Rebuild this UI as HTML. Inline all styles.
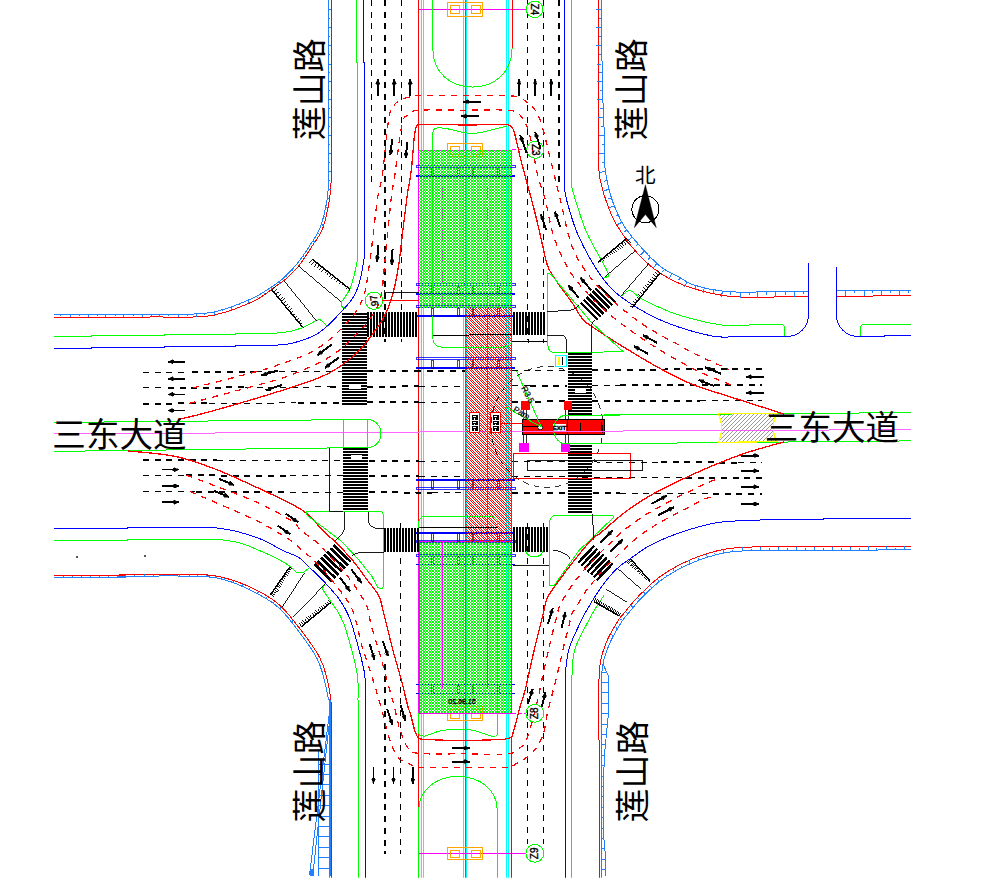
<!DOCTYPE html>
<html><head><meta charset="utf-8"><title>intersection</title>
<style>html,body{margin:0;padding:0;background:#fff;font-family:"Liberation Sans",sans-serif}svg{display:block}</style></head>
<body><svg width="1006" height="881" viewBox="0 0 1006 881">
<defs><clipPath id="cl"><rect x="54" y="0" width="857.5" height="877.7"/></clipPath>
<pattern id="gh" patternUnits="userSpaceOnUse" x="0" y="0" width="3" height="3"><path fill="#00ff00" d="M0 0h2v2h-2zM2 2h1v1h-1z"/></pattern>
<pattern id="rh" patternUnits="userSpaceOnUse" x="0" y="0" width="5" height="5"><path fill="#ff0000" d="M0 0h1v1h-1zM2 0h1v1h-1zM1 1h1v1h-1zM3 1h1v1h-1zM2 2h1v1h-1zM4 2h1v1h-1zM3 3h1v1h-1zM0 3h1v1h-1zM4 4h1v1h-1zM1 4h1v1h-1z"/></pattern>
<pattern id="yh" patternUnits="userSpaceOnUse" width="4" height="4"><path d="M-1 5 L5 -1 M-1 1 L1 -1 M3 5 L5 3" stroke="#808080" stroke-width="0.8"/></pattern>
</defs>
<rect width="1006" height="881" fill="#fff"/>
<g clip-path="url(#cl)">
<g shape-rendering="crispEdges" fill="none" stroke-linecap="butt">
<path d="M418.6 0 L418.6 881" stroke="#ff0000" stroke-width="1.4" fill="none"/>
<path d="M421.4 0 L421.4 881" stroke="#00ffff" stroke-width="1" fill="none"/>
<path d="M423.8 0 L423.8 881" stroke="#00ffff" stroke-width="1" fill="none"/>
<path d="M463.7 0 L463.7 881" stroke="#00ffff" stroke-width="1" fill="none"/>
<path d="M466 0 L466 881" stroke="#00ffff" stroke-width="1" fill="none"/>
<path d="M506.6 0 L506.6 881" stroke="#00ffff" stroke-width="1" fill="none"/>
<path d="M508.7 0 L508.7 881" stroke="#00ffff" stroke-width="1" fill="none"/>
<path d="M465.3 0 L465.3 881" stroke="#ff00ff" stroke-width="1" fill="none"/>
<path d="M432.4 150 L432.4 307" stroke="#00ff00" stroke-width="1" fill="none"/>
<path d="M497.5 541 L497.5 713" stroke="#00ff00" stroke-width="1" fill="none"/>
<rect x="418.8" y="150.2" width="93.1" height="157.5" stroke="#ff00ff" stroke-width="1" fill="none"/>
<rect x="418.8" y="541.5" width="93.1" height="171.8" stroke="#ff00ff" stroke-width="1" fill="none"/>
<path d="M511.9 307 L511.9 541" stroke="#ff00ff" stroke-width="1" fill="none"/>
<path d="M487.7 307.7 L487.7 541.5" stroke="#ff00ff" stroke-width="1" fill="none"/>
<path d="M442.6 176 L442.6 307" stroke="#ff00ff" stroke-width="1" fill="none" stroke-dasharray="2 1.5"/>
<path d="M487.6 176 L487.6 307" stroke="#ff00ff" stroke-width="1" fill="none" stroke-dasharray="2 1.5"/>
<path d="M54 433.8 L911 429.6" stroke="#ff66ff" stroke-width="1" fill="none"/>
<path d="M419 9.3 L526 9.3" stroke="#ff00ff" stroke-width="1" fill="none"/>
<path d="M512 149.8 L527 149.8" stroke="#ff00ff" stroke-width="1" fill="none" stroke-dasharray="4 2"/>
<path d="M419 853.3 L526 853.3" stroke="#ff00ff" stroke-width="1" fill="none"/>
<path d="M512 713.3 L526 713.3" stroke="#ff00ff" stroke-width="1" fill="none" stroke-dasharray="4 2"/>
<rect x="416" y="165.6" width="99" height="2" stroke="#0000ff" stroke-width="0.8" fill="none"/>
<path d="M416 175.9 L515 175.9" stroke="#0000ff" stroke-width="1.6" fill="none"/>
<rect x="416" y="283.7" width="99" height="2" stroke="#0000ff" stroke-width="0.8" fill="none"/>
<path d="M416 294 L515 294" stroke="#0000ff" stroke-width="1.6" fill="none"/>
<rect x="416" y="305.5" width="99" height="2" stroke="#0000ff" stroke-width="0.8" fill="none"/>
<path d="M416 315.7 L515 315.7" stroke="#0000ff" stroke-width="1.6" fill="none"/>
<rect x="416" y="357.3" width="99" height="2" stroke="#0000ff" stroke-width="0.8" fill="none"/>
<path d="M416 367.8 L515 367.8" stroke="#0000ff" stroke-width="1.6" fill="none"/>
<path d="M416 480.2 L515 480.2" stroke="#0000ff" stroke-width="1.6" fill="none"/>
<rect x="416" y="487.7" width="99" height="2" stroke="#0000ff" stroke-width="0.8" fill="none"/>
<path d="M416 532.8 L515 532.8" stroke="#0000ff" stroke-width="1.6" fill="none"/>
<rect x="416" y="540" width="99" height="2" stroke="#0000ff" stroke-width="0.8" fill="none"/>
<rect x="416" y="554.3" width="99" height="2" stroke="#0000ff" stroke-width="0.8" fill="none"/>
<path d="M416 564.6 L515 564.6" stroke="#0000ff" stroke-width="1.6" fill="none"/>
<path d="M416 684.6 L515 684.6" stroke="#0000ff" stroke-width="1.6" fill="none"/>
<path d="M416 693.4 L515 693.4" stroke="#0000ff" stroke-width="1.6" fill="none"/>
<rect x="431.9" y="168" width="1.4" height="8" stroke="#000000" stroke-width="0.7" fill="none"/>
<rect x="457.7" y="168" width="1.4" height="8" stroke="#000000" stroke-width="0.7" fill="none"/>
<rect x="472.5" y="168" width="1.4" height="8" stroke="#000000" stroke-width="0.7" fill="none"/>
<rect x="497.9" y="168" width="1.4" height="8" stroke="#000000" stroke-width="0.7" fill="none"/>
<rect x="431.9" y="286" width="1.4" height="8" stroke="#000000" stroke-width="0.7" fill="none"/>
<rect x="457.7" y="286" width="1.4" height="8" stroke="#000000" stroke-width="0.7" fill="none"/>
<rect x="472.5" y="286" width="1.4" height="8" stroke="#000000" stroke-width="0.7" fill="none"/>
<rect x="497.9" y="286" width="1.4" height="8" stroke="#000000" stroke-width="0.7" fill="none"/>
<rect x="431.9" y="308" width="1.4" height="8" stroke="#000000" stroke-width="0.7" fill="none"/>
<rect x="457.7" y="308" width="1.4" height="8" stroke="#000000" stroke-width="0.7" fill="none"/>
<rect x="472.5" y="308" width="1.4" height="8" stroke="#000000" stroke-width="0.7" fill="none"/>
<rect x="497.9" y="308" width="1.4" height="8" stroke="#000000" stroke-width="0.7" fill="none"/>
<rect x="431.9" y="360" width="1.4" height="8" stroke="#000000" stroke-width="0.7" fill="none"/>
<rect x="457.7" y="360" width="1.4" height="8" stroke="#000000" stroke-width="0.7" fill="none"/>
<rect x="472.5" y="360" width="1.4" height="8" stroke="#000000" stroke-width="0.7" fill="none"/>
<rect x="497.9" y="360" width="1.4" height="8" stroke="#000000" stroke-width="0.7" fill="none"/>
<rect x="431.9" y="480" width="1.4" height="8" stroke="#000000" stroke-width="0.7" fill="none"/>
<rect x="457.7" y="480" width="1.4" height="8" stroke="#000000" stroke-width="0.7" fill="none"/>
<rect x="472.5" y="480" width="1.4" height="8" stroke="#000000" stroke-width="0.7" fill="none"/>
<rect x="497.9" y="480" width="1.4" height="8" stroke="#000000" stroke-width="0.7" fill="none"/>
<rect x="431.9" y="533" width="1.4" height="8" stroke="#000000" stroke-width="0.7" fill="none"/>
<rect x="457.7" y="533" width="1.4" height="8" stroke="#000000" stroke-width="0.7" fill="none"/>
<rect x="472.5" y="533" width="1.4" height="8" stroke="#000000" stroke-width="0.7" fill="none"/>
<rect x="497.9" y="533" width="1.4" height="8" stroke="#000000" stroke-width="0.7" fill="none"/>
<rect x="431.9" y="556" width="1.4" height="8" stroke="#000000" stroke-width="0.7" fill="none"/>
<rect x="457.7" y="556" width="1.4" height="8" stroke="#000000" stroke-width="0.7" fill="none"/>
<rect x="472.5" y="556" width="1.4" height="8" stroke="#000000" stroke-width="0.7" fill="none"/>
<rect x="497.9" y="556" width="1.4" height="8" stroke="#000000" stroke-width="0.7" fill="none"/>
<rect x="431.9" y="685" width="1.4" height="8" stroke="#000000" stroke-width="0.7" fill="none"/>
<rect x="457.7" y="685" width="1.4" height="8" stroke="#000000" stroke-width="0.7" fill="none"/>
<rect x="472.5" y="685" width="1.4" height="8" stroke="#000000" stroke-width="0.7" fill="none"/>
<rect x="497.9" y="685" width="1.4" height="8" stroke="#000000" stroke-width="0.7" fill="none"/>
<path d="M143 372.3 L187 372.1" stroke="#000000" stroke-width="1" fill="none" stroke-dasharray="6 5.7"/>
<path d="M192 372 L256 371.7" stroke="#000000" stroke-width="2" fill="none" stroke-dasharray="6 5.7"/>
<path d="M256 371.7 L342 371.2" stroke="#000000" stroke-width="1" fill="none" stroke-dasharray="6 5.7"/>
<path d="M367 371.1 L419 370.8" stroke="#000000" stroke-width="2" fill="none" stroke-dasharray="6 5.7"/>
<path d="M415 370.9 L465 370.6" stroke="#000000" stroke-width="2" fill="none" stroke-dasharray="6 5.7"/>
<path d="M512 370.3 L567 370" stroke="#000000" stroke-width="1" fill="none" stroke-dasharray="6 5.7"/>
<path d="M592 369.9 L762 369" stroke="#000000" stroke-width="2" fill="none" stroke-dasharray="6 5.7"/>
<path d="M143 387.9 L166 387.8" stroke="#000000" stroke-width="1" fill="none" stroke-dasharray="6 5.7"/>
<path d="M168 387.8 L245 387.4" stroke="#000000" stroke-width="2" fill="none" stroke-dasharray="6 5.7"/>
<path d="M245 387.4 L330 386.9" stroke="#000000" stroke-width="1" fill="none" stroke-dasharray="6 5.7"/>
<path d="M330 386.9 L342 386.8" stroke="#000000" stroke-width="2" fill="none" stroke-dasharray="6 5.7"/>
<path d="M367 386.7 L419 386.4" stroke="#000000" stroke-width="2" fill="none" stroke-dasharray="6 5.7"/>
<path d="M419 386.4 L466 386.2" stroke="#000000" stroke-width="1" fill="none" stroke-dasharray="6 5.7"/>
<path d="M512 385.9 L530 385.8" stroke="#000000" stroke-width="1" fill="none" stroke-dasharray="6 5.7"/>
<path d="M530 385.8 L567 385.6" stroke="#000000" stroke-width="2" fill="none" stroke-dasharray="6 5.7"/>
<path d="M592 385.5 L620 385.4" stroke="#000000" stroke-width="1" fill="none" stroke-dasharray="6 5.7"/>
<path d="M620 385.4 L762 384.6" stroke="#000000" stroke-width="2" fill="none" stroke-dasharray="6 5.7"/>
<path d="M143 403.7 L209 403.3" stroke="#000000" stroke-width="2" fill="none" stroke-dasharray="6 5.7"/>
<path d="M209 403.3 L296 402.9" stroke="#000000" stroke-width="1" fill="none" stroke-dasharray="6 5.7"/>
<path d="M298 402.9 L342 402.6" stroke="#000000" stroke-width="2" fill="none" stroke-dasharray="6 5.7"/>
<path d="M367 402.5 L419 402.2" stroke="#000000" stroke-width="2" fill="none" stroke-dasharray="6 5.7"/>
<path d="M419 402.2 L466 402" stroke="#000000" stroke-width="1" fill="none" stroke-dasharray="6 5.7"/>
<path d="M512 401.7 L567 401.4" stroke="#000000" stroke-width="2" fill="none" stroke-dasharray="6 5.7"/>
<path d="M592 401.3 L700 400.7" stroke="#000000" stroke-width="2" fill="none" stroke-dasharray="6 5.7"/>
<path d="M700 400.7 L762 400.4" stroke="#000000" stroke-width="1" fill="none" stroke-dasharray="6 5.7"/>
<path d="M143 460.1 L217 460.4" stroke="#000000" stroke-width="2" fill="none" stroke-dasharray="6 5.7"/>
<path d="M217 460.4 L343 460.9" stroke="#000000" stroke-width="1" fill="none" stroke-dasharray="6 5.7"/>
<path d="M369 461 L419 461.3" stroke="#000000" stroke-width="2" fill="none" stroke-dasharray="6 5.7"/>
<path d="M419 461.3 L466 461.5" stroke="#000000" stroke-width="1" fill="none" stroke-dasharray="6 5.7"/>
<path d="M512 461.6 L660 462.3" stroke="#000000" stroke-width="1" fill="none" stroke-dasharray="6 5.7"/>
<path d="M661 462.3 L738 462.6" stroke="#000000" stroke-width="2" fill="none" stroke-dasharray="6 5.7"/>
<path d="M738 462.6 L762 462.7" stroke="#000000" stroke-width="1" fill="none" stroke-dasharray="6 5.7"/>
<path d="M143 475.2 L185 475.4" stroke="#000000" stroke-width="1" fill="none" stroke-dasharray="6 5.7"/>
<path d="M186 475.4 L290 475.8" stroke="#000000" stroke-width="2" fill="none" stroke-dasharray="6 5.7"/>
<path d="M290 475.8 L343 476" stroke="#000000" stroke-width="1" fill="none" stroke-dasharray="6 5.7"/>
<path d="M369 476.1 L419 476.4" stroke="#000000" stroke-width="2" fill="none" stroke-dasharray="6 5.7"/>
<path d="M419 476.4 L466 476.6" stroke="#000000" stroke-width="1" fill="none" stroke-dasharray="6 5.7"/>
<path d="M512 476.7 L685 477.5" stroke="#000000" stroke-width="1" fill="none" stroke-dasharray="6 5.7"/>
<path d="M686 477.5 L762 477.8" stroke="#000000" stroke-width="2" fill="none" stroke-dasharray="6 5.7"/>
<path d="M143 491.4 L195 491.6" stroke="#000000" stroke-width="1" fill="none" stroke-dasharray="6 5.7"/>
<path d="M196 491.6 L290 492" stroke="#000000" stroke-width="2" fill="none" stroke-dasharray="6 5.7"/>
<path d="M290 492 L343 492.2" stroke="#000000" stroke-width="1" fill="none" stroke-dasharray="6 5.7"/>
<path d="M369 492.3 L419 492.6" stroke="#000000" stroke-width="2" fill="none" stroke-dasharray="6 5.7"/>
<path d="M415 492.5 L432 492.6" stroke="#000000" stroke-width="2" fill="none" stroke-dasharray="6 5.7"/>
<path d="M432 492.6 L466 492.8" stroke="#000000" stroke-width="1" fill="none" stroke-dasharray="6 5.7"/>
<path d="M512 492.9 L568 493.2" stroke="#000000" stroke-width="2" fill="none" stroke-dasharray="6 5.7"/>
<path d="M593 493.3 L620 493.4" stroke="#000000" stroke-width="2" fill="none" stroke-dasharray="6 5.7"/>
<path d="M620 493.4 L712 493.8" stroke="#000000" stroke-width="1" fill="none" stroke-dasharray="6 5.7"/>
<path d="M713 493.8 L762 494" stroke="#000000" stroke-width="2" fill="none" stroke-dasharray="6 5.7"/>
<path d="M371.7 0 L371.7 185" stroke="#000000" stroke-width="1" fill="none" stroke-dasharray="6 5.7"/>
<path d="M385.3 0 L385.3 341.5" stroke="#000000" stroke-width="2" fill="none" stroke-dasharray="6 5.7"/>
<path d="M401 0 L401 341.5" stroke="#000000" stroke-width="1" fill="none" stroke-dasharray="6 5.7"/>
<path d="M527.7 0 L527.7 340" stroke="#000000" stroke-width="1" fill="none" stroke-dasharray="6 5.7"/>
<path d="M543.5 0 L543.5 340" stroke="#000000" stroke-width="1" fill="none" stroke-dasharray="6 5.7"/>
<path d="M559.2 0 L559.2 185" stroke="#000000" stroke-width="2" fill="none" stroke-dasharray="6 5.7"/>
<path d="M385 664 L385 854" stroke="#000000" stroke-width="2" fill="none" stroke-dasharray="6 5.7"/>
<path d="M400.6 522.7 L400.6 854" stroke="#000000" stroke-width="1" fill="none" stroke-dasharray="6 5.7"/>
<path d="M527.6 522.7 L527.6 843.6" stroke="#000000" stroke-width="1" fill="none" stroke-dasharray="6 5.7"/>
<path d="M543.6 522.7 L543.6 843.6" stroke="#000000" stroke-width="1" fill="none" stroke-dasharray="6 5.7"/>
<rect x="447.4" y="2.5" width="35.1" height="13.8" stroke="#ffa500" stroke-width="1" fill="none"/>
<rect x="450.6" y="5.5" width="8.8" height="8.3" stroke="#ffa500" stroke-width="1" fill="none"/>
<rect x="471.2" y="5.5" width="8.8" height="8.3" stroke="#ffa500" stroke-width="1" fill="none"/>
<rect x="447.4" y="143.3" width="35.1" height="13.3" stroke="#ffa500" stroke-width="1" fill="none"/>
<rect x="450.6" y="146.2" width="8.8" height="8" stroke="#ffa500" stroke-width="1" fill="none"/>
<rect x="471.2" y="146.2" width="8.8" height="8" stroke="#ffa500" stroke-width="1" fill="none"/>
<rect x="447.4" y="706.8" width="35.1" height="13.9" stroke="#ffa500" stroke-width="1" fill="none"/>
<rect x="450.6" y="709.9" width="8.8" height="8.3" stroke="#ffa500" stroke-width="1" fill="none"/>
<rect x="471.2" y="709.9" width="8.8" height="8.3" stroke="#ffa500" stroke-width="1" fill="none"/>
<rect x="447.4" y="847.4" width="35.1" height="12.5" stroke="#ffa500" stroke-width="1" fill="none"/>
<rect x="450.6" y="850.1" width="8.8" height="7.5" stroke="#ffa500" stroke-width="1" fill="none"/>
<rect x="471.2" y="850.1" width="8.8" height="7.5" stroke="#ffa500" stroke-width="1" fill="none"/>
<path d="M342 313 h25 v2 h-25 zM342 316 h25 v2 h-25 zM342 319 h25 v2 h-25 zM342 322 h25 v2 h-25 zM342 325 h25 v2 h-25 zM342 328 h25 v2 h-25 zM342 331 h25 v2 h-25 zM342 334 h25 v2 h-25 zM342 337 h25 v2 h-25 zM342 340 h25 v2 h-25 zM342 343 h25 v2 h-25 zM342 346 h25 v2 h-25 zM342 349 h25 v2 h-25 zM342 352 h25 v2 h-25 zM342 355 h25 v2 h-25 zM342 358 h25 v2 h-25 zM342 361 h25 v2 h-25 zM342 364 h25 v2 h-25 zM342 367 h25 v2 h-25 zM342 370 h25 v2 h-25 zM342 373 h25 v2 h-25 zM342 376 h25 v2 h-25 zM342 379 h25 v2 h-25 zM342 382 h25 v2 h-25 zM342 385 h25 v2 h-25 zM342 388 h25 v2 h-25 zM342 391 h25 v2 h-25 zM342 394 h25 v2 h-25 zM342 397 h25 v2 h-25 zM342 400 h25 v2 h-25 zM342 403 h25 v2 h-25 z" stroke="none" stroke-width="0" fill="#000000"/>
<path d="M343 448 h25 v2 h-25 zM343 451 h25 v2 h-25 zM343 454 h25 v2 h-25 zM343 457 h25 v2 h-25 zM343 460 h25 v2 h-25 zM343 463 h25 v2 h-25 zM343 466 h25 v2 h-25 zM343 469 h25 v2 h-25 zM343 472 h25 v2 h-25 zM343 475 h25 v2 h-25 zM343 478 h25 v2 h-25 zM343 481 h25 v2 h-25 zM343 484 h25 v2 h-25 zM343 487 h25 v2 h-25 zM343 490 h25 v2 h-25 zM343 493 h25 v2 h-25 zM343 496 h25 v2 h-25 zM343 499 h25 v2 h-25 zM343 502 h25 v2 h-25 zM343 505 h25 v2 h-25 zM343 508 h25 v2 h-25 z" stroke="none" stroke-width="0" fill="#000000"/>
<path d="M367 312 v25 h2 v-25 zM370 312 v25 h2 v-25 zM373 312 v25 h2 v-25 zM376 312 v25 h2 v-25 zM379 312 v25 h2 v-25 zM382 312 v25 h2 v-25 zM385 312 v25 h2 v-25 zM388 312 v25 h2 v-25 zM391 312 v25 h2 v-25 zM394 312 v25 h2 v-25 zM397 312 v25 h2 v-25 zM400 312 v25 h2 v-25 zM403 312 v25 h2 v-25 zM406 312 v25 h2 v-25 zM409 312 v25 h2 v-25 zM412 312 v25 h2 v-25 zM415 312 v25 h2 v-25 z" stroke="none" stroke-width="0" fill="#000000"/>
<path d="M513 312 v23 h2 v-23 zM516 312 v23 h2 v-23 zM519 312 v23 h2 v-23 zM522 312 v23 h2 v-23 zM525 312 v23 h2 v-23 zM528 312 v23 h2 v-23 zM531 312 v23 h2 v-23 zM534 312 v23 h2 v-23 zM537 312 v23 h2 v-23 zM540 312 v23 h2 v-23 zM543 312 v23 h2 v-23 z" stroke="none" stroke-width="0" fill="#000000"/>
<path d="M384 528 v24 h2 v-24 zM387 528 v24 h2 v-24 zM390 528 v24 h2 v-24 zM393 528 v24 h2 v-24 zM396 528 v24 h2 v-24 zM399 528 v24 h2 v-24 zM402 528 v24 h2 v-24 zM405 528 v24 h2 v-24 zM408 528 v24 h2 v-24 zM411 528 v24 h2 v-24 zM414 528 v24 h2 v-24 zM417 528 v24 h2 v-24 z" stroke="none" stroke-width="0" fill="#000000"/>
<path d="M513 527 v25 h2 v-25 zM516 527 v25 h2 v-25 zM519 527 v25 h2 v-25 zM522 527 v25 h2 v-25 zM525 527 v25 h2 v-25 zM528 527 v25 h2 v-25 zM531 527 v25 h2 v-25 zM534 527 v25 h2 v-25 zM537 527 v25 h2 v-25 zM540 527 v25 h2 v-25 zM543 527 v25 h2 v-25 zM546 527 v25 h2 v-25 z" stroke="none" stroke-width="0" fill="#000000"/>
<path d="M568 353 h24 v2 h-24 zM568 356 h24 v2 h-24 zM568 359 h24 v2 h-24 zM568 362 h24 v2 h-24 zM568 365 h24 v2 h-24 zM568 368 h24 v2 h-24 zM568 371 h24 v2 h-24 zM568 374 h24 v2 h-24 zM568 377 h24 v2 h-24 zM568 380 h24 v2 h-24 zM568 383 h24 v2 h-24 zM568 386 h24 v2 h-24 zM568 389 h24 v2 h-24 zM568 392 h24 v2 h-24 zM568 395 h24 v2 h-24 zM568 398 h24 v2 h-24 zM568 401 h24 v2 h-24 zM568 404 h24 v2 h-24 zM568 407 h24 v2 h-24 zM568 410 h24 v2 h-24 zM568 413 h24 v2 h-24 z" stroke="none" stroke-width="0" fill="#000000"/>
<path d="M568 445 h24 v2 h-24 zM568 448 h24 v2 h-24 zM568 451 h24 v2 h-24 zM568 454 h24 v2 h-24 zM568 457 h24 v2 h-24 zM568 460 h24 v2 h-24 zM568 463 h24 v2 h-24 zM568 466 h24 v2 h-24 zM568 469 h24 v2 h-24 zM568 472 h24 v2 h-24 zM568 475 h24 v2 h-24 zM568 478 h24 v2 h-24 zM568 481 h24 v2 h-24 zM568 484 h24 v2 h-24 zM568 487 h24 v2 h-24 zM568 490 h24 v2 h-24 zM568 493 h24 v2 h-24 zM568 496 h24 v2 h-24 zM568 499 h24 v2 h-24 zM568 502 h24 v2 h-24 zM568 505 h24 v2 h-24 zM568 508 h24 v2 h-24 zM568 511 h24 v2 h-24 z" stroke="none" stroke-width="0" fill="#000000"/>
<rect x="349" y="384.4" width="12" height="4.2" stroke="none" stroke-width="1" fill="#fff"/>
<rect x="351" y="455" width="11" height="4" stroke="none" stroke-width="1" fill="#fff"/>
<rect x="575" y="389" width="11" height="4" stroke="none" stroke-width="1" fill="#fff"/>
<g transform="translate(598 302.5) rotate(45)">
<path d="M-12 -13.6 h24 v2.6 h-24 zM-12 -9.5 h24 v2.6 h-24 zM-12 -5.4 h24 v2.6 h-24 zM-12 -1.3 h24 v2.6 h-24 zM-12 2.8 h24 v2.6 h-24 zM-12 6.9 h24 v2.6 h-24 zM-12 11 h24 v2.6 h-24 z" stroke="none" stroke-width="0" fill="#000000"/>
</g>
<g transform="translate(332.8 563.1) rotate(44)">
<path d="M-12.2 -14.8 h24.5 v2.7 h-24.5 zM-12.2 -10.3 h24.5 v2.7 h-24.5 zM-12.2 -5.8 h24.5 v2.7 h-24.5 zM-12.2 -1.4 h24.5 v2.7 h-24.5 zM-12.2 3.1 h24.5 v2.7 h-24.5 zM-12.2 7.7 h24.5 v2.7 h-24.5 zM-12.2 12.2 h24.5 v2.7 h-24.5 z" stroke="none" stroke-width="0" fill="#000000"/>
</g>
<g transform="translate(595.6 563) rotate(-47)">
<path d="M-11.8 -14.1 h23.5 v2.6 h-23.5 zM-11.8 -9.8 h23.5 v2.6 h-23.5 zM-11.8 -5.5 h23.5 v2.6 h-23.5 zM-11.8 -1.3 h23.5 v2.6 h-23.5 zM-11.8 3 h23.5 v2.6 h-23.5 zM-11.8 7.2 h23.5 v2.6 h-23.5 zM-11.8 11.4 h23.5 v2.6 h-23.5 z" stroke="none" stroke-width="0" fill="#000000"/>
</g>
</g>
<g shape-rendering="crispEdges"><rect x="418.5" y="150.2" width="93.4" height="157.5" fill="url(#gh)"/>
<rect x="418.5" y="541.5" width="93.4" height="171.8" fill="url(#gh)"/>
<rect x="465.8" y="307.7" width="45.9" height="233.8" fill="url(#rh)"/></g>
<g shape-rendering="crispEdges" fill="none" stroke-linecap="butt">
<path d="M442.6 541.5 L442.6 689" stroke="#ff00ff" stroke-width="1" fill="none"/>
<path d="M487.6 541.5 L487.6 689" stroke="#ff00ff" stroke-width="1" fill="none"/>
<path d="M419.2 541.5 V713.3 H511.7 V541.5" stroke="#ff00ff" stroke-width="1.4" fill="none"/>
<path d="M465.2 541.5 L465.2 713" stroke="#ff00ff" stroke-width="1" fill="none"/>
<path d="M328.7 0 C328.7 16.7 328.7 70.8 328.7 100 C328.7 129.2 329 158.3 328.7 175 C328.4 191.7 328.4 191.2 327 200 C325.6 208.8 322.8 220.5 320 228 C317.2 235.5 313.8 239.2 310.1 245 C306.5 250.8 302.3 257.2 298.1 262.5 C293.9 267.8 288.6 273.1 285 276.7 C281.4 280.2 280 281.1 276.2 283.8 C272.4 286.5 266 290.7 262 293.1 C258 295.6 257.7 296 252 298.5 C246.3 301 236.2 305.5 228 308 C219.8 310.5 216 312.6 203 313.6 C190 314.6 174.8 314.1 150 314.2 C125.2 314.3 70 314.4 54 314.5" stroke="#2080ff" stroke-width="1" fill="none"/>
<path d="M331.3 0 C331.3 16.7 331.3 70.8 331.3 100 C331.3 129.2 331.7 158.2 331.3 175 C330.9 191.8 330.7 192 329.2 201 C327.7 210 325.2 221.7 322.5 229 C319.8 236.3 316.6 239.1 312.8 245 C309 250.9 304 259.2 299.7 264.7 C295.4 270.2 291.1 274.2 287.2 277.8 C283.3 281.4 280.4 282.9 276.2 286 C272 289.1 265.9 293.8 262 296.4 C258.1 299 258.5 299.1 253 301.5 C247.5 303.9 237.2 308.5 229 311 C220.8 313.5 216.7 315.6 203.5 316.6 C190.3 317.6 174.9 316.9 150 317 C125.1 317.1 70 317.2 54 317.3" stroke="#ff0000" stroke-width="1" fill="none"/>
<path d="M328.7 9 l2.6 -0M328.7 18.6 l1.4 -0M328.7 27.5 l2.6 -0M328.7 36.2 l1.4 -0M328.7 45.3 l2.6 0M328.7 54.7 l1.4 -0M328.7 64 l2.6 -0M328.7 72.1 l1.4 0M328.7 81.1 l2.6 0M328.7 90.6 l1.4 -0M328.7 99.1 l2.6 -0M328.7 108.2 l1.4 -0M328.7 117.4 l2.6 -0M328.8 126.5 l1.4 -0M328.8 135.3 l2.6 -0M328.8 144.8 l1.4 -0M328.8 153.7 l2.6 -0M328.8 162.7 l1.4 0M328.7 171.5 l2.6 0M328.6 180.3 l1.4 0M328.4 189.3 l2.6 0.1M327.3 198 l1.4 0.2M325.7 207 l2.5 0.5M323.5 216.6 l1.4 0.4M321.2 224.6 l2.5 0.8M317.7 233.2 l1.3 0.7M312.9 240.8 l2.1 1.5M308 248.4 l1.2 0.8M302.8 256.1 l2.1 1.5M297.4 263.3 l1.1 0.9M291.7 269.9 l1.9 1.8M285.6 276.1 l1 1M278.9 281.9 l1.5 2.1M271.1 287.3 l0.8 1.2M263.6 292.1 l1.4 2.2M256.5 296.4 l0.7 1.3M248.1 300.2 l1 2.4M239.4 303.9 l0.5 1.3M231 307 l0.9 2.5M222.7 309.7 l0.4 1.4M214.1 312.1 l0.5 2.5M204.5 313.5 l0.1 1.4M196.2 314 l0.1 2.6M187 314.2 l0 1.4M178.5 314.2 l-0 2.6M168.9 314.2 l-0 1.4M159.4 314.2 l-0 2.6M151.4 314.2 l0 1.4M142.3 314.2 l0 2.6M133.3 314.3 l0 1.4M123.4 314.3 l0 2.6M115.3 314.3 l0 1.4M105.8 314.4 l0 2.6M97.5 314.4 l0 1.4M88.2 314.4 l0 2.6M79.4 314.4 l0 1.4M70.3 314.5 l0 2.6M60.9 314.5 l0 1.4" stroke="#2080ff" stroke-width="1" fill="none"/>
<path d="M601.6 0 C601.7 13.3 601.8 56.7 602.3 80 C602.8 103.3 604.1 125.7 604.5 140 C604.9 154.3 604.2 158.4 604.8 166 C605.4 173.6 606.7 179.3 608 185.3 C609.3 191.3 610.7 196.2 612.8 202 C614.9 207.8 618.3 215.3 620.6 220 C622.9 224.7 624.2 226.3 626.8 230 C629.4 233.7 632.7 237.7 636.3 241.9 C639.9 246.1 643.9 250.6 648.3 255 C652.7 259.4 657.3 264.4 662.6 268.2 C667.9 272 674.7 274.9 680 277.7 C685.3 280.5 687 282.9 694.4 285.2 C701.8 287.5 714.1 290.3 724.4 291.4 C734.7 292.5 742 292 756 292 C770 292 799.7 291.3 808.4 291.2" stroke="#2080ff" stroke-width="1" fill="none"/>
<path d="M598.6 0 C598.6 16.7 598.6 72.7 598.6 100 C598.6 127.3 598.1 149.8 598.6 164 C599.1 178.2 600 178.6 601.5 185.3 C603 192 604.9 197.8 607.4 204.4 C609.9 211 611.8 217 616.7 225 C621.6 233 629.7 244.7 636.8 252.6 C643.9 260.5 650.9 267 659.3 272.6 C667.6 278.2 676 282.5 686.9 286.4 C697.8 290.2 712.9 293.9 724.4 295.7 C735.9 297.5 742 297.1 756 297.2 C770 297.3 799.7 296.4 808.4 296.2" stroke="#ff0000" stroke-width="1" fill="none"/>
<path d="M601.7 9.5 l-5.5 0M601.7 18.7 l-3 0M601.8 27.2 l-5.5 0M601.8 36.2 l-3 0M601.9 45.6 l-5.5 0M602 54.9 l-3 0M602.1 64 l-5.5 0.1M602.2 72.5 l-3 0M602.3 81.2 l-5.5 0.1M602.6 90.4 l-3 0.1M602.9 99.4 l-5.5 0.2M603.2 108.1 l-3 0.1M603.6 117.4 l-5.5 0.2M604 126 l-3 0.1M604.4 135.5 l-5.5 0.2M604.6 144.6 l-3 0.1M604.6 153.7 l-5.5 -0.1M604.6 162.7 l-3 0.1M605.4 171.6 l-5.5 0.7M607 180.6 l-3 0.6M609 189.4 l-5.3 1.3M611.4 198 l-2.9 0.9M614.3 205.8 l-5.1 2M618.2 214.9 l-2.8 1.3M621.8 222.3 l-4.9 2.6M626.8 230 l-2.5 1.8M632.2 237 l-4.3 3.5M638.2 244.1 l-2.3 2M644.5 251.1 l-4 3.8M650.4 257.1 l-2.2 2.1M657 263.6 l-3.7 4M664.3 269.4 l-1.7 2.5M671.8 273.5 l-2.5 4.9M680 277.7 l-1.4 2.7M687.2 282.1 l-2.8 4.7M695.9 285.7 l-0.9 2.9M704.2 287.8 l-1.3 5.4M713.7 289.8 l-0.6 3M722.3 291.2 l-0.7 5.5M731 291.9 l-0.2 3M740.2 292.1 l0 5.5M749.7 292 l0 3M757.7 292 l0 5.5M766.6 291.9 l0 3M775.8 291.8 l0.1 5.5M785.4 291.6 l0.1 3M794.4 291.5 l0.1 5.5M803 291.3 l0.1 3" stroke="#2080ff" stroke-width="1" fill="none"/>
<path d="M836.4 290.4 L911 290.4" stroke="#2080ff" stroke-width="1" fill="none"/>
<path d="M836.4 296.2 L873 296.2 L874 295.5 L911 295.5" stroke="#ff0000" stroke-width="1" fill="none"/>
<path d="M845.8 290.4 l0 5.5M854.6 290.4 l-0 3M864.2 290.4 l-0 5.5M872.9 290.4 l-0 3M881.5 290.4 l-0 5.5M890.9 290.4 l-0 3M899.8 290.4 l-0 5.5M908.6 290.4 l-0 3" stroke="#2080ff" stroke-width="1" fill="none"/>
<path d="M54 575.9 C65.3 575.9 110.5 576.1 122 575.9 C133.5 575.7 110 574.8 123 574.6 C136 574.4 183 574 200 574.6 C217 575.2 216.3 575.8 225 578 C233.7 580.2 243.3 583.8 252 587.9 C260.7 592 270.2 597.5 277 602.9 C283.8 608.2 285.8 610.7 293 620 C300.2 629.3 313.9 645.7 320.1 658.5 C326.4 671.3 328.6 683.4 330.5 697 C332.4 710.6 331.2 709.3 331.4 740 C331.5 770.7 331.4 857.5 331.4 881" stroke="#ff0000" stroke-width="1" fill="none"/>
<path d="M54 577.4 C65.3 577.4 110.5 577.6 122 577.4 C133.5 577.2 110 576.6 123 576.4 C136 576.2 183 575.8 200 576.4 C217 577 216.5 577.7 225 580 C233.5 582.3 242.6 586.2 251 590.4 C259.4 594.6 268.8 599.7 275.5 605 C282.2 610.3 284.5 612.9 291.5 622 C298.5 631.1 311.4 647 317.5 659.5 C323.6 672 326 687.3 328 697 C330 706.7 329.3 687 329.6 717.7 C329.9 748.4 329.6 853.8 329.6 881" stroke="#2080ff" stroke-width="1" fill="none"/>
<path d="M63.7 577.4 l0 -1.8M72.2 577.4 l0 -1.8M81.7 577.5 l0 -1.8M90.4 577.5 l0 -1.8M99 577.5 l0 -1.8M108.1 577.5 l-0 -1.8M117.5 577.4 l-0 -1.8M125.9 576.4 l-0 -1.8M134.9 576.3 l-0 -1.8M144.2 576.2 l-0 -1.8M153.4 576.1 l-0 -1.8M161.8 576.1 l-0 -1.8M171.4 576.1 l-0 -1.8M179.6 576.1 l0 -1.8M189.1 576.2 l0 -1.8M197.9 576.3 l0 -1.8M206.9 576.7 l0.1 -1.8M215.3 577.5 l0.3 -1.8M224 579.7 l0.5 -1.7M233.3 582.7 l0.6 -1.7M241.8 586.1 l0.7 -1.7M249.2 589.5 l0.8 -1.6M257.4 593.7 l0.8 -1.6M265.7 598.4 l0.9 -1.5M273.2 603.3 l1 -1.5M279.8 608.9 l1.3 -1.3M286.1 615.7 l1.4 -1.2M291.5 622 l1.3 -1.2" stroke="#2080ff" stroke-width="1" fill="none"/>
<path d="M330 700 L330 876" stroke="#2080ff" stroke-width="1" fill="none"/>
<path d="M330.5 704 L309.5 875" stroke="#2080ff" stroke-width="1" fill="none"/>
<path d="M330.5 712 L312.8 875" stroke="#2080ff" stroke-width="1" fill="none"/>
<path d="M318.3 749 L318.3 876" stroke="#2080ff" stroke-width="1" fill="none"/>
<path d="M318.3 764 H330M318.3 774.4 H330M318.3 784.8 H330M318.3 795.2 H330M318.3 805.6 H330M318.3 816 H330M318.3 826.4 H330M318.3 836.8 H330M318.3 847.2 H330M318.3 857.6 H330M318.3 868 H330" stroke="#2080ff" stroke-width="1" fill="none"/>
<rect x="310" y="869" width="3.5" height="7" stroke="none" stroke-width="1" fill="#2080ff"/>
<path d="M599 881 C599 857.5 599 774.7 599 740 C599 705.3 598.2 689 599.3 673 C600.4 657 602.6 652.5 605.8 643.7 C609 634.9 615.4 625.1 618.5 620 C621.6 614.9 620.7 617.1 624.2 613 C627.7 608.9 633 601.7 639.3 595.4 C645.6 589.1 653 581.4 661.8 575.4 C670.6 569.4 681.5 563.5 691.9 559.1 C702.3 554.8 713.7 551.3 724.4 549.3 C735.1 547.3 739.6 547.3 756 546.9 C772.4 546.5 797.2 546.8 823 546.6 C848.8 546.5 896.3 546.1 911 546" stroke="#ff0000" stroke-width="1" fill="none"/>
<path d="M601.5 881 C601.5 857.5 601.5 774.7 601.5 740 C601.5 705.3 600.5 688.8 601.8 673 C603 657.2 605.7 653.5 609 645 C612.3 636.5 618.5 627 621.5 622 C624.5 617 623.7 619 627 615 C630.3 611 635.4 604.1 641.5 598 C647.6 591.9 654.9 584.4 663.5 578.5 C672.1 572.6 682.8 566.8 693 562.5 C703.2 558.2 714.5 554.8 725 552.8 C735.5 550.8 739.7 551 756 550.6 C772.3 550.2 797.2 550.4 823 550.3 C848.8 550.2 896.3 549.9 911 549.8" stroke="#2080ff" stroke-width="1" fill="none"/>
<path d="M613.8 636.1 l-3.2 -1.7M617.8 628.7 l-1.7 -0.9M622.5 620.4 l-3.1 -1.9M628 613.8 l-1.5 -1.3M633.2 607.3 l-2.8 -2.3M639.9 599.7 l-1.4 -1.4M645.4 594.1 l-2.5 -2.6M651.9 587.8 l-1.3 -1.5M659.2 581.7 l-2.2 -2.8M666.7 576.4 l-1.1 -1.7M674.5 571.6 l-1.8 -3.1M681.8 567.7 l-0.9 -1.8M690.2 563.7 l-1.5 -3.3M698.7 560.3 l-0.7 -1.9M707.4 557.2 l-1.1 -3.4M715.3 555 l-0.5 -1.9M724 553 l-0.7 -3.5M733 551.6 l-0.2 -2M742.4 550.9 l-0.1 -3.6M751.6 550.7 l-0 -2M760.6 550.5 l-0.1 -3.6M769.1 550.4 l-0 -2M778.4 550.4 l-0 -3.6M787.5 550.3 l-0 -2M796 550.3 l0 -3.6M805.9 550.3 l-0 -2M814.9 550.3 l-0 -3.6M823 550.3 l-0 -2M832.6 550.2 l-0 -3.6M841.1 550.2 l-0 -2M850.2 550.2 l-0 -3.6M859.5 550.1 l-0 -2M868.9 550 l-0 -3.6M876.9 550 l-0 -2M886.7 549.9 l-0 -3.6M895.6 549.9 l-0 -2M904.1 549.8 l-0 -3.6" stroke="#2080ff" stroke-width="1" fill="none"/>
<path d="M603 664 L608.4 676 L608.4 714 L605 749 L603.2 782 L603.2 831 L605.6 858 L605.6 876" stroke="#2080ff" stroke-width="1" fill="none"/>
<path d="M601.5 672 H606.6M601.5 682.4 H608.4M601.5 692.8 H608.4M601.5 703.2 H608.4M601.5 713.6 H608.4M601.5 724 H607.4M601.5 734.4 H606.4M601.5 744.8 H605.4M601.5 755.2 H604.7M601.5 765.6 H604.1M601.5 776 H603.5M601.5 786.4 H603.2M601.5 796.8 H603.2M601.5 807.2 H603.2M601.5 817.6 H603.2M601.5 828 H603.2M601.5 838.4 H603.9M601.5 848.8 H604.8M601.5 859.2 H605.6M601.5 869.6 H605.6" stroke="#2080ff" stroke-width="1" fill="none"/>
<path d="M363 0 L363 62 L364 62 L364 189 L364.6 189 L364.6 245 C364.5 247.7 364.8 254.5 363.7 261.4 C362.6 268.3 360.2 280.2 358.2 286.6 C356.2 293 354.7 295.3 351.7 299.7 C348.7 304.1 344 308.6 340 313 C336 317.4 331.7 322.3 327.6 325.9 C323.5 329.5 320.2 332.2 315.6 334.7 C311 337.2 305.2 339.4 300 341 C294.8 342.6 290.4 343.9 284.6 344.6 C278.8 345.3 268.3 345.1 265 345.2 L235 345.2 L235 346.2 L164 346.2 L164 347.2 L91 347.2 L91 348.3 L54 348.3" stroke="#0000ff" stroke-width="1" fill="none"/>
<path d="M564.5 0 L564.5 185 C564.9 187.5 564.1 191.2 566.6 200 C569.1 208.8 572.9 224.2 579.2 237.6 C585.5 251 595.9 269.3 604.2 280.2 C612.6 291.1 618.9 295.6 629.3 302.7 C639.7 309.8 653 317.1 666.8 322.7 C680.6 328.2 700.5 333.7 711.9 336 C723.3 338.3 731.1 336.5 735 336.6 L787.2 336.4" stroke="#0000ff" stroke-width="1" fill="none"/>
<path d="M787.2 336.4 C799 336.4 808.4 327 808.4 314.9 L808.4 263.2" stroke="#0000ff" stroke-width="1" fill="none"/>
<path d="M836.4 267 L836.4 314.9 C836.4 327 846 336.4 858.4 336.4 L884.5 336.4 L884.5 335.5 L911 335.5" stroke="#0000ff" stroke-width="1" fill="none"/>
<path d="M54 528.3 L127.5 528.3 L127.5 527.5 L213 527.5 C216.7 528.1 226.8 529 235 531 C243.2 533 254.1 536.4 262 539.6 C269.9 542.8 276.3 547.5 282.4 550.4 C288.4 553.3 293.8 554.4 298.3 557.2 C302.9 560.1 305.1 563.1 309.7 567.5 C314.2 571.9 320.7 578 325.6 583.3 C330.5 588.6 335.4 593.9 339.2 599.2 C343 604.5 345.7 609.1 348.3 615.1 C350.9 621.1 352.3 625.3 355 635 C357.7 644.7 362.8 662.5 364.5 673.3 C366.2 684.1 365.2 695.5 365.4 700 L365.4 881" stroke="#0000ff" stroke-width="1" fill="none"/>
<path d="M565 881 L565 679 C565.6 674.1 566 659.4 568.8 649.6 C571.6 639.8 577.8 628 581.6 620 C585.4 612 588.2 607.6 591.8 601.7 C595.4 595.8 598.9 590.2 603.1 584.7 C607.3 579.2 612.2 573.1 616.8 568.8 C621.3 564.4 624.7 562.6 630.4 558.6 C636.1 554.6 642.6 549.3 650.8 545 C659 540.7 668.4 536.5 679.4 532.8 C690.4 529.1 704.2 524.8 717 522.7 C729.8 520.6 743.8 520.8 756 520.2 C768.2 519.6 784.3 519.4 790 519.3 L823 519.3 L823 518.8 L911 518.8" stroke="#0000ff" stroke-width="1" fill="none"/>
<path d="M356 0 L356 62 L357.2 62 L357.2 189 L357.8 189 L357.8 245 C357.7 247.7 358.4 254.1 357.1 261.4 C355.8 268.7 352.6 281.9 350 288.7 C347.4 295.4 342.8 299.7 341.3 301.9 L341.3 306.2 L345.7 309" stroke="#00ff00" stroke-width="1" fill="none"/>
<path d="M327.6 326.5 L320 319.4 L316.1 320.5 C313.7 321.8 306.8 326.1 301.4 328.1 C296 330.1 290.5 331.6 283.9 332.5 C277.3 333.4 265.6 333.2 262 333.4 L235 333.5 L235 334.5 L164 334.5 L164 335.5 L91 335.5 L91 336.5 L54 336.5" stroke="#00ff00" stroke-width="1" fill="none"/>
<path d="M571.4 0 L571.4 185 C572.1 187.5 572.8 192.1 575.4 200 C578 207.9 581.9 221.8 586.7 232.6 C591.5 243.4 600.7 258.4 604.2 265.1 C607.8 271.8 607.4 271.7 608 273 L608.5 276 L604.5 278" stroke="#00ff00" stroke-width="1" fill="none"/>
<path d="M621.7 296.4 C622.4 295.7 624.3 292.8 626 292 C627.7 291.2 628.8 290 631.8 291.4 C634.8 292.8 636.4 296.2 644.3 300.2 C652.2 304.2 666 311 679.4 315.2 C692.8 319.4 711.6 323.8 724.4 325.3 C737.2 326.9 750.7 324.6 756 324.5 L781 324.1" stroke="#00ff00" stroke-width="1" fill="none"/>
<path d="M781 324.1 C783.5 324.3 784.7 326 784.7 328.5 L784.7 336.4" stroke="#00ff00" stroke-width="1" fill="none"/>
<path d="M860.4 336.4 L860.4 328.5 C860.5 325.5 862 324.1 865 324.1 L911 324.1" stroke="#00ff00" stroke-width="1" fill="none"/>
<path d="M54 540.3 L127.5 540.3 L127.5 539.3 L218 539.3 C221.7 539.9 232.7 541 240 543 C247.3 545 255.5 548.9 262 551.6 C268.5 554.4 274.4 557 279 559.5 C283.6 562 286.8 564.1 289.8 566.3 C292.8 568.5 294.8 571.6 297.2 572.6 C299.6 573.6 302.9 572.1 304 572 L309.7 567.5" stroke="#00ff00" stroke-width="1" fill="none"/>
<path d="M325.6 583.3 L322.2 589 C323.5 590.9 327.3 596.2 330.1 600.4 C332.9 604.6 336.6 609.1 339.2 614 C341.8 618.9 343 620.1 346 630 C349 639.9 355.1 661.6 357.1 673.3 C359.1 685 357.9 695.5 358 700 L358 881" stroke="#00ff00" stroke-width="1" fill="none"/>
<path d="M571.8 881 L571.8 679 C572.3 674.1 571.9 659.4 574.7 649.6 C577.6 639.8 585.1 627.4 588.9 620 C592.7 612.6 596.1 607.6 597.5 605.1 L604.3 594.9" stroke="#00ff00" stroke-width="1" fill="none"/>
<path d="M54 422.5 L343 419.7" stroke="#00ff00" stroke-width="1" fill="none"/>
<path d="M54 451.4 L343 447.8" stroke="#00ff00" stroke-width="1" fill="none"/>
<path d="M343 419.7 L367 419.5 C385.5 419.5 385.5 447.6 367 447.6 L343 447.8" stroke="#00ff00" stroke-width="1" fill="none"/>
<path d="M343.4 419.7 L343.4 447.8" stroke="#00ff00" stroke-width="1" fill="none"/>
<path d="M367.2 419.5 L367.2 447.6" stroke="#00ff00" stroke-width="1" fill="none"/>
<path d="M911 412.6 L566 415.3 C560 415.5 553.7 421 553.7 429.5 C553.7 438 560 444 566 444 L911 440.9" stroke="#00ff00" stroke-width="1" fill="none"/>
<path d="M179 419.2 C182.5 418.4 189.9 417 200 414.3 C210.1 411.6 226.6 407.1 239.8 403.2 C253.1 399.3 266.2 395.4 279.5 391.2 C292.8 386.9 309.2 381.8 319.3 377.7 C329.4 373.6 333.4 371.1 340 366.6 C346.6 362.1 353.7 356 359 350.7 C364.3 345.4 367.9 340.5 372 335 C376.1 329.5 380.2 324.1 383.5 317.9 C386.8 311.7 389.3 306.1 391.7 297.9 C394.1 289.7 396.3 279.8 398.1 268.9 C399.9 258 401.1 244.7 402.6 232.6 C404.1 220.5 405.7 206.7 407.1 196.3 C408.6 185.9 410.1 179.9 411.3 170 C412.5 160.1 413.5 143.8 414.3 136.8 C415.1 129.8 415.1 129.8 416 127.8 C416.9 125.8 415.5 125.2 419.5 124.6 C423.5 124 432.4 124.2 440 124.3 C447.6 124.4 456.7 125 465 125 C473.3 125 483 124.7 490 124.6 C497 124.5 503.2 123.9 507 124.5 C510.8 125.1 511.2 126.2 512.5 128 C513.8 129.8 513.6 129.7 515 135 C516.4 140.3 518.9 151.9 520.9 160 C522.9 168.1 524.8 174.5 527.2 183.6 C529.6 192.7 532.8 204.1 535.4 214.4 C538 224.7 540.5 236.5 542.6 245.3 C544.7 254.1 545.5 260.8 548.1 267.1 C550.7 273.5 554 277.3 558.1 283.4 C562.2 289.4 568.4 297.3 572.6 303.4 C576.8 309.5 578.9 315.2 583.5 320 C588.1 324.8 594.5 328.2 600 332 C605.5 335.8 607.7 337.2 616.7 342.8 C625.8 348.4 642.1 358.5 654.3 365.3 C666.5 372.1 676.2 377.8 690 383.4 C703.8 389 721.3 393.9 737 399 C752.7 404.1 776.2 411.5 784 414" stroke="#ff0000" stroke-width="1.3" fill="none"/>
<path d="M127.8 450.9 C135.7 451.8 160.9 453.4 175.4 456.4 C189.9 459.4 202.2 464.2 215 469 C227.8 473.8 237.5 478.4 252 485.2 C266.5 492 290.3 502.5 302 510 C313.7 517.5 316.6 524.6 322.2 530 C327.8 535.4 330.7 537.4 335.8 542.5 C340.9 547.6 347.6 554.4 352.8 560.6 C358 566.9 362.8 574 367.2 580 C371.6 586 376.1 590.2 379 596.3 C381.9 602.3 382.1 607.5 384.4 616.3 C386.7 625.1 389.9 638.7 392.6 649 C395.3 659.3 398.2 668.3 400.8 678 C403.4 687.7 406.5 701.3 408 707 C409.5 712.7 408.9 708.3 410 712.1 C411.1 715.9 413.4 725.9 414.5 729.7 C415.6 733.5 415.8 733.6 416.5 735 C417.2 736.4 417.4 737.5 419 738.2 C420.6 739 418.3 739.1 426 739.5 C433.7 739.9 452.7 740.5 465 740.5 C477.3 740.5 493 739.8 500 739.5 C507 739.2 505.1 739 507 738.6 C508.9 738.2 510.4 737.9 511.4 737 C512.4 736.1 512.3 735.2 513 733 C513.7 730.8 514.4 728.3 515.6 724 C516.8 719.7 518.4 712.9 520 707 C521.6 701.1 523.1 698 525.4 688.9 C527.7 679.8 530.7 664.7 533.6 652.6 C536.5 640.5 540.3 625.4 542.6 616.3 C544.9 607.2 544.6 603.9 547.2 598.1 C549.8 592.4 553.5 588.2 558.1 581.8 C562.7 575.4 569 567 574.8 559.7 C580.6 552.4 588.7 542.6 592.9 538.2 C597.1 533.8 594.5 537.8 600 533.4 C605.5 529 617.2 518.1 625.8 511.6 C634.4 505.2 641.8 500.3 651.7 494.7 C661.7 489.1 674.2 483.1 685.5 477.8 C696.8 472.5 708.7 467.2 719.3 462.9 C729.9 458.6 738.3 455.4 749.1 451.9 C759.9 448.4 778.1 443.6 783.9 442" stroke="#ff0000" stroke-width="1.3" fill="none"/>
<path d="M192.9 387.9 C202.8 385.4 238 376.6 252 372.8 C266 369 266.6 369.1 277 365.3 C287.4 361.6 303.3 357 314.6 350.3 C325.9 343.6 336.8 333.7 344.7 325.3 C352.6 316.9 358 310.6 362.2 300.2 C366.4 289.8 367.2 279.3 369.7 262.6 C372.2 245.9 375.2 214.5 377.3 200 C379.4 185.5 380.4 188.7 382.3 175.4 C384.2 162.1 386.8 131.5 388.5 120.2 C390.2 108.9 390.4 111 392.3 107.7 C394.2 104.4 396.5 102.1 399.8 100.2 C403.1 98.3 409.1 97.2 412.3 96.4 C415.5 95.7 410.2 95.8 419 95.7 C427.8 95.6 450.2 95.7 465 95.7 C479.8 95.7 498.4 95.3 507.6 95.7 C516.8 96.1 516.6 96.8 520 98 C523.4 99.2 525.2 100.7 527.7 102.7 C530.2 104.7 532.9 107.1 535 110 C537.1 112.9 538.7 116.4 540.2 120.2 C541.7 124 542.8 128.4 544 133 C545.2 137.6 545.9 140.3 547.7 147.8 C549.5 155.3 552.9 169.3 555 178 C557.1 186.7 557.6 188.8 560.4 200 C563.2 211.2 567.2 232.9 571.6 245 C576 257.1 580.4 263.8 586.7 272.6 C593 281.4 599.6 288.9 609.2 297.7 C618.8 306.5 632.6 317.4 644.3 325.3 C656 333.2 671.2 340.7 679.4 345.3 C687.6 349.9 685 349.1 693.3 353.2 C701.6 357.3 723.4 366.9 729.4 369.7" stroke="#ff0000" stroke-width="1.3" fill="none" stroke-dasharray="6 6"/>
<path d="M189.1 403.4 C199.6 400.6 235.2 391.3 252 386.6 C268.8 381.9 276.2 380.6 289.6 375.4 C303 370.2 319.7 363.6 332.2 355.3 C344.7 347 356.8 334.5 364.7 325.3 C372.6 316.1 376.4 310.6 379.8 300.2 C383.2 289.8 382.9 279.3 384.8 262.6 C386.7 245.9 389.3 214.5 391 200 C392.7 185.5 393 187.8 394.8 175.4 C396.6 163 399.7 135.3 401.8 125.3 C403.9 115.3 404.4 117.7 407.3 115.2 C410.2 112.7 409.4 111 419 110.2 C428.6 109.4 450.2 110.2 465 110.2 C479.8 110.2 498.4 109.4 507.6 110.2 C516.8 111 516.6 111.4 520.2 115.2 C523.8 119 526.1 122.8 529 132.8 C531.9 142.8 535 164.2 537.7 175.4 C540.4 186.6 542.6 189.6 545.3 200 C548 210.4 550.1 225.9 554.1 237.6 C558.1 249.3 563.2 260.5 569.1 270.1 C575 279.7 581.3 286.9 589.2 295.2 C597.1 303.5 605.9 311.6 616.7 320.2 C627.6 328.8 641.1 338.2 654.3 346.5 C667.5 354.8 683 363.7 696 370.2 C709 376.7 726.5 382.9 732.6 385.5" stroke="#ff0000" stroke-width="1.3" fill="none" stroke-dasharray="6 6"/>
<path d="M190 491.4 C200.3 495.9 237.9 512 252 518.5 C266.1 525 268.7 527.4 274.5 530.6 C280.3 533.8 283.2 535.4 287 537.9 C290.8 540.4 294 543.2 297.2 545.9 C300.4 548.5 303.4 551.2 306.3 553.8 C309.2 556.3 311.5 558 314.8 561.2 C318.1 564.4 322.3 568.7 326 573 C329.7 577.3 333.8 582.8 336.9 586.8 C340 590.8 342.4 593.4 344.9 597 C347.4 600.6 349.8 604.1 351.7 608.3 C353.6 612.4 354.5 615.8 356.2 621.9 C357.9 628 359.5 637.4 361.6 645 C363.7 652.6 366.5 659.7 369 667.4 C371.5 675.1 373.9 682.6 376.4 691 C378.9 699.4 381.3 708.8 383.8 717.7 C386.3 726.6 388.5 737.5 391.2 744.4 C393.9 751.3 396.5 755.8 400 759.2 C403.5 762.6 409 763.7 412 765 C415 766.3 409 766.8 417.8 767.2 C426.6 767.6 449.8 767.2 465 767.2 C480.2 767.2 500.8 767.6 509 767.2 C517.2 766.9 510.2 767.4 514 765.1 C517.8 762.8 527 758.1 531.8 753.3 C536.6 748.5 540 742.6 542.6 736.1 C545.2 729.6 545.7 720.9 547.2 714.3 C548.7 707.6 550.3 701.7 551.7 696.2 C553.1 690.8 554.2 686.5 555.4 681.6 C556.6 676.8 557.6 672.8 559 667.1 C560.4 661.4 562 653.6 563.5 647.2 C565 640.9 566.7 634.5 568.1 629 C569.5 623.5 570.8 617.4 572 614 C573.2 610.6 573.7 611.2 575.3 608.5 C576.9 605.8 579.7 601.2 581.8 597.7 C583.9 594.2 585.6 591 588 587.8 C590.4 584.6 593.5 581.7 596 578.7 C598.5 575.7 599.1 574.2 603 570 C606.9 565.8 615.3 557.7 619.6 553.5 C623.9 549.3 625.3 547.7 628.7 544.7 C632.1 541.7 636 538.3 639.8 535.4 C643.6 532.5 648.1 529.8 651.7 527.5 C655.3 525.2 658.1 523.5 661.6 521.5 C665.1 519.5 669.1 517.3 672.6 515.5 C676.1 513.7 679 512.4 682.5 510.6 C686 508.8 689.9 506.4 693.4 504.6 C696.9 502.8 699.9 501.1 703.4 499.6 C706.9 498.1 712.5 496.4 714.3 495.7" stroke="#ff0000" stroke-width="1.3" fill="none" stroke-dasharray="6 6"/>
<path d="M186.6 475.2 C197.5 479.4 234.8 492.8 252 500.2 C269.2 507.6 281.5 514.7 289.6 519.7 C297.7 524.7 297.5 527.2 300.6 530 C303.8 532.8 305.7 534 308.5 536.2 C311.3 538.4 314.8 540.4 317.6 543 C320.5 545.6 321.9 547.6 325.6 551.6 C329.3 555.6 335.6 561.9 340 567 C344.4 572.1 348.4 577 352 582 C355.6 587 359.3 592.6 361.9 597 C364.5 601.4 366 603.4 367.6 608.3 C369.2 613.2 369.6 619.2 371.5 626.5 C373.4 633.8 376.8 643.2 379.3 652 C381.8 660.8 384.2 670.2 386.7 679.2 C389.2 688.2 391.9 697.5 394.1 705.9 C396.3 714.3 397.8 722.7 400 729.6 C402.2 736.5 404.5 743.3 407.5 747.3 C410.5 751.2 408.2 752.2 417.8 753.3 C427.4 754.4 450 753.7 465 753.8 C480 753.9 498.7 754.9 508 753.8 C517.3 752.7 517.8 749.6 521 747 C524.2 744.4 525.1 743 527.2 737.9 C529.3 732.8 531.8 722.8 533.6 716.1 C535.4 709.5 536.6 704.6 538.1 698 C539.6 691.4 541.2 682.6 542.6 676.2 C544 669.9 544.9 666 546.3 659.9 C547.7 653.8 549.1 646.9 550.8 639.9 C552.5 632.9 554.8 623.9 556.3 618.1 C557.8 612.4 558.1 609.6 559.9 605.4 C561.7 601.2 564.8 596.6 567.2 592.7 C569.6 588.8 572.1 584.9 574.4 581.8 C576.7 578.6 578.7 576.6 581 573.8 C583.3 571 584.4 569.2 588.3 565 C592.2 560.8 600.4 552.5 604.5 548.5 C608.6 544.5 610 543.4 612.7 540.7 C615.4 538 617.7 535.1 620.9 532.4 C624.1 529.7 628.2 527.1 631.8 524.5 C635.4 521.9 639.2 518.8 642.7 516.5 C646.2 514.2 649.2 512.6 652.7 510.6 C656.2 508.6 660 506.6 663.6 504.6 C667.2 502.6 671.1 500.4 674.6 498.6 C678.1 496.8 681 495.4 684.5 493.7 C688 492 691.9 490.4 695.4 488.7 C698.9 487 701.8 485.3 705.4 483.7 C709 482.1 715.3 479.6 717.3 478.8" stroke="#ff0000" stroke-width="1.3" fill="none" stroke-dasharray="6 6"/>
<path d="M432.9 0 L432.9 50 C433 72 450 87 472.5 87 C495 87 512 72 512.1 47.6" stroke="#00ff00" stroke-width="1" fill="none"/>
<path d="M512.1 0 L512.1 47.6" stroke="#ff0000" stroke-width="1" fill="none"/>
<path d="M432.9 150 L432.9 133 C433 129.5 435 127.8 438 127.8 C450 127.5 458 133 472 133.5 C486 133 497 127 507.5 126.5" stroke="#00ff00" stroke-width="1" fill="none"/>
<path d="M418.7 881 L418.7 809.5 C419 790 436 776.4 458 776.4 C480 776.4 497 790 497.2 809.5 L497.2 881" stroke="#00ff00" stroke-width="1" fill="none"/>
<path d="M511.4 738 L511.4 881" stroke="#ff0000" stroke-width="1.3" fill="none"/>
<path d="M418.5 713.3 L418.5 733 C419 736 421 736.3 424.8 736 L438.4 731.4 C445 729.8 450 729.2 455.4 729.2 C462 729.2 468 729.5 473.6 730.3 L489.5 735.4 C492 736.5 496 737 497.4 734.3 L497.4 713.3" stroke="#00ff00" stroke-width="1" fill="none"/>
<path d="M432.7 316 L432.7 337.8 C433 343.5 436.5 347.2 442 347.2 L503 347.2 C507 347 510 345 511.5 342" stroke="#00ff00" stroke-width="1" fill="none"/>
<path d="M432.7 335.5 L466.6 335.5 L470.4 334.6 L512 334.6" stroke="#000000" stroke-width="1" fill="none"/>
<path d="M512 341 L547 341 M528 338.5 V343 M543.2 338.5 V343" stroke="#000000" stroke-width="1" fill="none"/>
<path d="M418.5 527.8 L418.5 523 C419 519 421.5 516.5 425 516.5 L489.3 516.5 C494 516.7 497.3 519 497.8 523 L497.8 527.8" stroke="#00ff00" stroke-width="1" fill="none"/>
<path d="M418.5 527.8 L497.8 527.8" stroke="#000000" stroke-width="1" fill="none"/>
<path d="M527.6 522.7 V527 M543.6 522.7 V527" stroke="#000000" stroke-width="1" fill="none"/>
<path d="M547.8 274 L547.8 345 C548 350 551 353 556 353 L623 351.6 L591.7 322.7 L551.6 275.2 C550 273.5 548 273 547.8 274" stroke="#00ff00" stroke-width="1" fill="none"/>
<path d="M546.6 311.5 L569 310.5 C574 309.5 578 307 579.2 305.2" stroke="#000000" stroke-width="0.9" fill="none"/>
<path d="M546.6 335.3 L561.6 335.3 C566 336 566.8 340 566.8 344 L566.8 353.3" stroke="#000000" stroke-width="0.9" fill="none"/>
<path d="M591.2 353.3 L591.2 325.3 L594.2 320.2" stroke="#000000" stroke-width="0.9" fill="none"/>
<path d="M306.4 511.6 L380 511.1 C382.5 511.5 383.5 514 383.5 518 L383.5 585 C383.3 589 381 590 378 587.5 L372 576.5 L358.5 559.5 L341.5 541.4 L326.7 530 L308.2 516.2 C306.5 514.5 305.8 512.5 306.4 511.6" stroke="#00ff00" stroke-width="1" fill="none"/>
<path d="M329.7 447.6 L329.7 511.5 L343.4 511.5" stroke="#000000" stroke-width="0.9" fill="none"/>
<path d="M344.7 511.5 L344.7 528 C344 533 338 538 335 541" stroke="#000000" stroke-width="0.9" fill="none"/>
<path d="M368.5 511.5 L368.5 520 C369 526 373 528.3 378 528.3 L383.5 528.3" stroke="#000000" stroke-width="0.9" fill="none"/>
<path d="M352.2 555.3 C356 553 360 552.3 366 552.3 L383.5 552.3" stroke="#000000" stroke-width="0.9" fill="none"/>
<path d="M555.4 515.2 L611.7 515.2 C613.5 516 613.5 517.5 613 518 L579.2 550.3 L554.1 585.4 L549.1 585.4 L549.1 523 C550 518 552 515.5 555.4 515.2" stroke="#00ff00" stroke-width="1" fill="none"/>
<path d="M592.5 514 L593.7 540" stroke="#000000" stroke-width="0.9" fill="none"/>
<path d="M553 550.3 C562 551 568 555 571 559" stroke="#000000" stroke-width="0.9" fill="none"/>
<path d="M512.8 565.3 L549.1 565.3" stroke="#000000" stroke-width="0.9" fill="none"/>
<path d="M526 551.6 C528 558 540 559 543 551.6" stroke="#00ff00" stroke-width="1" fill="none"/>
<path d="M626.8 238.3 L598.2 262" stroke="#000000" stroke-width="1.4" fill="none"/>
<path d="M626.8 238.3 l3.5 4.2M625 239.8 l3.3 4M623.2 241.3 l3.2 3.8M621.4 242.7 l3 3.7M619.6 244.2 l2.9 3.5M617.9 245.7 l2.7 3.3M616.1 247.2 l2.6 3.1M614.3 248.7 l2.4 2.9M612.5 250.2 l2.2 2.7M610.7 251.6 l2.1 2.5M608.9 253.1 l1.9 2.3M607.1 254.6 l1.8 2.1M605.4 256.1 l1.6 1.9M603.6 257.6 l1.4 1.7M601.8 259 l1.3 1.5M600 260.5 l1.1 1.3M598.2 262 l1 1.2" stroke="#000000" stroke-width="0.9" fill="none"/>
<path d="M604.7 277.1 L635.7 250.3" stroke="#000000" stroke-width="0.9" fill="none"/>
<path d="M620.8 296.2 L648.9 263.4" stroke="#000000" stroke-width="0.9" fill="none"/>
<path d="M660.2 272.9 L632.2 307.5" stroke="#000000" stroke-width="1.4" fill="none"/>
<path d="M660.2 272.9 l-3.5 -2.8M658.5 275.1 l-3.4 -2.8M656.7 277.2 l-3.4 -2.7M655 279.4 l-3.3 -2.7M653.2 281.5 l-3.2 -2.6M651.5 283.7 l-3.1 -2.5M649.7 285.9 l-3.1 -2.5M648 288 l-3 -2.4M646.2 290.2 l-2.9 -2.4M644.5 292.4 l-2.8 -2.3M642.7 294.5 l-2.8 -2.2M641 296.7 l-2.7 -2.2M639.2 298.9 l-2.6 -2.1M637.5 301 l-2.6 -2.1M635.7 303.2 l-2.5 -2M634 305.3 l-2.4 -1.9M632.2 307.5 l-2.3 -1.9" stroke="#000000" stroke-width="0.9" fill="none"/>
<path d="M312.3 259.2 L350 289.3" stroke="#000000" stroke-width="1.4" fill="none"/>
<path d="M312.3 259.2 l-3.1 3.9M314.7 261.1 l-3 3.7M317 263 l-2.8 3.6M319.4 264.8 l-2.7 3.4M321.7 266.7 l-2.6 3.2M324.1 268.6 l-2.4 3.1M326.4 270.5 l-2.3 2.9M328.8 272.4 l-2.2 2.7M331.1 274.2 l-2 2.5M333.5 276.1 l-1.9 2.4M335.9 278 l-1.8 2.2M338.2 279.9 l-1.6 2M340.6 281.8 l-1.5 1.9M342.9 283.7 l-1.3 1.7M345.3 285.5 l-1.2 1.5M347.6 287.4 l-1.1 1.3M350 289.3 l-0.9 1.2" stroke="#000000" stroke-width="0.9" fill="none"/>
<path d="M298.1 265.8 L341.3 301.9" stroke="#000000" stroke-width="0.9" fill="none"/>
<path d="M284.4 281.1 L316.1 320.5" stroke="#000000" stroke-width="0.9" fill="none"/>
<path d="M271.8 289.8 L302.5 327" stroke="#000000" stroke-width="1.4" fill="none"/>
<path d="M271.8 289.8 l3.9 -3.2M273.7 292.1 l3.7 -3.1M275.6 294.4 l3.6 -2.9M277.6 296.8 l3.4 -2.8M279.5 299.1 l3.3 -2.7M281.4 301.4 l3.1 -2.6M283.3 303.8 l3 -2.5M285.2 306.1 l2.8 -2.3M287.1 308.4 l2.7 -2.2M289.1 310.7 l2.6 -2.1M291 313.1 l2.4 -2M292.9 315.4 l2.3 -1.9M294.8 317.7 l2.1 -1.8M296.7 320 l2 -1.6M298.7 322.4 l1.8 -1.5M300.6 324.7 l1.7 -1.4M302.5 327 l1.5 -1.3" stroke="#000000" stroke-width="0.9" fill="none"/>
<path d="M270.5 594.7 L289.8 566.9" stroke="#000000" stroke-width="1.4" fill="none"/>
<path d="M270.5 594.7 l3.7 2.6M271.7 593 l3.6 2.5M272.9 591.2 l3.5 2.4M274.1 589.5 l3.4 2.4M275.3 587.8 l3.3 2.3M276.5 586 l3.2 2.2M277.7 584.3 l3.1 2.1M278.9 582.5 l3 2.1M280.1 580.8 l2.9 2M281.4 579.1 l2.8 1.9M282.6 577.3 l2.7 1.9M283.8 575.6 l2.6 1.8M285 573.9 l2.5 1.7M286.2 572.1 l2.4 1.6M287.4 570.4 l2.3 1.6M288.6 568.6 l2.2 1.5M289.8 566.9 l2.1 1.4" stroke="#000000" stroke-width="0.9" fill="none"/>
<path d="M281.9 607.2 L304.6 573.1" stroke="#000000" stroke-width="0.9" fill="none"/>
<path d="M292.6 617.4 L309.6 600.4 L325.6 583.3" stroke="#000000" stroke-width="0.9" fill="none"/>
<path d="M301.7 626.5 L330.7 602.6" stroke="#000000" stroke-width="1.4" fill="none"/>
<path d="M301.7 626.5 l-2.9 -3.5M303.5 625 l-2.8 -3.4M305.3 623.5 l-2.7 -3.3M307.1 622 l-2.7 -3.3M308.9 620.5 l-2.6 -3.2M310.8 619 l-2.6 -3.1M312.6 617.5 l-2.5 -3M314.4 616 l-2.4 -3M316.2 614.5 l-2.4 -2.9M318 613.1 l-2.3 -2.8M319.8 611.6 l-2.3 -2.7M321.6 610.1 l-2.2 -2.7M323.4 608.6 l-2.1 -2.6M325.3 607.1 l-2.1 -2.5M327.1 605.6 l-2 -2.5M328.9 604.1 l-2 -2.4M330.7 602.6 l-1.9 -2.3" stroke="#000000" stroke-width="0.9" fill="none"/>
<path d="M630.9 559.2 L650.2 581.3" stroke="#000000" stroke-width="1.4" fill="none"/>
<path d="M630.9 559.2 l-4.1 3.6M632.1 560.6 l-4 3.5M633.3 562 l-3.8 3.3M634.5 563.3 l-3.6 3.1M635.7 564.7 l-3.4 3M636.9 566.1 l-3.2 2.8M638.1 567.5 l-3 2.6M639.3 568.9 l-2.8 2.5M640.5 570.2 l-2.6 2.3M641.8 571.6 l-2.4 2.1M643 573 l-2.3 2M644.2 574.4 l-2.1 1.8M645.4 575.8 l-1.9 1.6M646.6 577.2 l-1.7 1.5M647.8 578.5 l-1.5 1.3M649 579.9 l-1.3 1.2M650.2 581.3 l-1.1 1" stroke="#000000" stroke-width="0.9" fill="none"/>
<path d="M616.8 567.7 L641.2 589.2" stroke="#000000" stroke-width="0.9" fill="none"/>
<path d="M606 589.2 L627 602.3" stroke="#000000" stroke-width="0.9" fill="none"/>
<path d="M594.1 601.7 L619 615.9" stroke="#000000" stroke-width="1.4" fill="none"/>
<path d="M594.1 601.7 l2.2 -3.9M595.7 602.6 l2.2 -3.8M597.2 603.5 l2.1 -3.8M598.8 604.4 l2.1 -3.7M600.3 605.2 l2.1 -3.6M601.9 606.1 l2 -3.6M603.4 607 l2 -3.5M605 607.9 l1.9 -3.4M606.5 608.8 l1.9 -3.3M608.1 609.7 l1.9 -3.3M609.7 610.6 l1.8 -3.2M611.2 611.5 l1.8 -3.1M612.8 612.4 l1.7 -3.1M614.3 613.2 l1.7 -3M615.9 614.1 l1.7 -2.9M617.4 615 l1.6 -2.9M619 615.9 l1.6 -2.8" stroke="#000000" stroke-width="0.9" fill="none"/>
<circle cx="534.7" cy="9.3" r="8.3" stroke="#00ff00" fill="none"/>
<circle cx="535.2" cy="149.8" r="8.5" stroke="#00ff00" fill="none"/>
<circle cx="374" cy="300.7" r="8.7" stroke="#00ff00" fill="none"/>
<circle cx="534.8" cy="713.3" r="8.9" stroke="#00ff00" fill="none"/>
<circle cx="534.8" cy="853.3" r="8.9" stroke="#00ff00" fill="none"/>
<path d="M382 300.7 L419 300.7" stroke="#ff0000" stroke-width="1" fill="none"/>
<path d="M384.8 292.7 L419 292.7" stroke="#000000" stroke-width="0.9" fill="none"/>
<path d="M384.8 290 L384.8 295.5" stroke="#000000" stroke-width="0.9" fill="none"/>
<path d="M401 290 L401 295.5" stroke="#000000" stroke-width="0.9" fill="none"/>
<rect x="522.5" y="419.5" width="82.2" height="14.7" stroke="#000000" stroke-width="1" fill="#ff0000"/>
<path d="M567.8 419.5 L567.8 434.2" stroke="#000000" stroke-width="1" fill="none"/>
<path d="M523 426.8 L539.5 426.8" stroke="#000000" stroke-width="1" fill="none"/>
<rect x="520.9" y="401.4" width="8.8" height="8.8" stroke="none" stroke-width="1" fill="#ff0000"/>
<rect x="564" y="401.4" width="8.3" height="8.8" stroke="none" stroke-width="1" fill="#ff0000"/>
<rect x="518.7" y="443.4" width="9.9" height="8.8" stroke="none" stroke-width="1" fill="#ff00ff"/>
<rect x="560.9" y="443.4" width="9.2" height="8.8" stroke="none" stroke-width="1" fill="#ff00ff"/>
<path d="M523.2 410 L523.2 420" stroke="#000000" stroke-width="0.8" fill="none"/>
<path d="M523.2 433.6 L523.2 443.4" stroke="#000000" stroke-width="0.8" fill="none"/>
<path d="M526.4 410 L526.4 420" stroke="#000000" stroke-width="0.8" fill="none"/>
<path d="M526.4 433.6 L526.4 443.4" stroke="#000000" stroke-width="0.8" fill="none"/>
<path d="M565 410 L565 420" stroke="#000000" stroke-width="0.8" fill="none"/>
<path d="M565 433.6 L565 443.4" stroke="#000000" stroke-width="0.8" fill="none"/>
<path d="M568.5 410 L568.5 420" stroke="#000000" stroke-width="0.8" fill="none"/>
<path d="M568.5 433.6 L568.5 443.4" stroke="#000000" stroke-width="0.8" fill="none"/>
<rect x="513.9" y="453.7" width="117" height="24.3" stroke="#ff0000" stroke-width="1" fill="none"/>
<rect x="527.5" y="460.5" width="114.8" height="10.3" stroke="#000000" stroke-width="0.9" fill="none"/>
<path d="M500.8 423.7 L523 423.7" stroke="#ff0000" stroke-width="1" fill="none"/>
<rect x="469.5" y="412.4" width="10.3" height="20.5" stroke="#ff0000" stroke-width="1" fill="#fff"/>
<rect x="490.7" y="412.4" width="10.1" height="20.5" stroke="#ff0000" stroke-width="1" fill="#fff"/>
<rect x="471.6" y="415" width="6" height="4.5" stroke="none" stroke-width="1" fill="#000"/>
<rect x="473.1" y="416.2" width="3" height="1" stroke="none" stroke-width="1" fill="#fff"/>
<rect x="474.1" y="418" width="1" height="1.5" stroke="none" stroke-width="1" fill="#fff"/>
<rect x="471.6" y="420.5" width="6" height="4.5" stroke="none" stroke-width="1" fill="#000"/>
<rect x="473.1" y="421.7" width="3" height="1" stroke="none" stroke-width="1" fill="#fff"/>
<rect x="474.1" y="423.5" width="1" height="1.5" stroke="none" stroke-width="1" fill="#fff"/>
<rect x="471.6" y="426" width="6" height="4.5" stroke="none" stroke-width="1" fill="#000"/>
<rect x="473.1" y="427.2" width="3" height="1" stroke="none" stroke-width="1" fill="#fff"/>
<rect x="474.1" y="429" width="1" height="1.5" stroke="none" stroke-width="1" fill="#fff"/>
<rect x="492.7" y="415" width="6" height="4.5" stroke="none" stroke-width="1" fill="#000"/>
<rect x="494.2" y="416.2" width="3" height="1" stroke="none" stroke-width="1" fill="#fff"/>
<rect x="495.2" y="418" width="1" height="1.5" stroke="none" stroke-width="1" fill="#fff"/>
<rect x="492.7" y="420.5" width="6" height="4.5" stroke="none" stroke-width="1" fill="#000"/>
<rect x="494.2" y="421.7" width="3" height="1" stroke="none" stroke-width="1" fill="#fff"/>
<rect x="495.2" y="423.5" width="1" height="1.5" stroke="none" stroke-width="1" fill="#fff"/>
<rect x="492.7" y="426" width="6" height="4.5" stroke="none" stroke-width="1" fill="#000"/>
<rect x="494.2" y="427.2" width="3" height="1" stroke="none" stroke-width="1" fill="#fff"/>
<rect x="495.2" y="429" width="1" height="1.5" stroke="none" stroke-width="1" fill="#fff"/>
<circle cx="540.3" cy="427.3" r="2.4" fill="#fff" stroke="#000" stroke-width="0.7"/>
<rect x="553" y="423.5" width="13" height="7" stroke="none" stroke-width="1" fill="#fff"/>
<path d="M516.7 371.4 L541.5 427.5" stroke="#00ff00" stroke-width="1" fill="none"/>
<path d="M505.3 406.9 L539.5 426" stroke="#00ff00" stroke-width="1" fill="none"/>
<path d="M580.9 423 L580.9 431" stroke="#000000" stroke-width="1" fill="none"/>
<path d="M601.2 422 L601.2 432" stroke="#000000" stroke-width="1" fill="none"/>
<ellipse cx="547" cy="427" rx="56" ry="60.5" stroke="#000" stroke-width="0.8" stroke-dasharray="6 5" fill="none"/>
<rect x="555.4" y="355.3" width="11.2" height="11.3" stroke="#00ffff" stroke-width="1.2" fill="none"/>
<path d="M559 357 L559 365" stroke="#ffff00" stroke-width="1.2" fill="none"/>
<path d="M562.5 357 L562.5 365" stroke="#000000" stroke-width="1" fill="none"/>
<path d="M718.6 413.9 L777 413.3 C772 422 772 433 777 441.7 L718.6 442.3 C722.5 433 722.5 423 718.6 413.9 Z" stroke="#ffff00" stroke-width="1.2" fill="url(#yh)"/>
<path d="M185 361.7 L168 361.7" stroke="#000000" stroke-width="2" fill="none"/>
<path d="M168 361.7 L172.6 359.7 L175 361.7 L172.6 363.7 Z" stroke="#000000" stroke-width="0.5" fill="#000000"/>
<path d="M185 378.9 L168 378.9" stroke="#000000" stroke-width="2" fill="none"/>
<path d="M168 378.9 L172.6 376.9 L175 378.9 L172.6 380.9 Z" stroke="#000000" stroke-width="0.5" fill="#000000"/>
<path d="M185 394.4 L168 394.4" stroke="#000000" stroke-width="1" fill="none"/>
<path d="M168 394.4 L172.6 392.4 L175 394.4 L172.6 396.4 Z" stroke="#000000" stroke-width="0.5" fill="#000000"/>
<path d="M185 410.5 L168 410.5" stroke="#000000" stroke-width="1" fill="none"/>
<path d="M168 410.5 L172.6 408.5 L175 410.5 L172.6 412.5 Z" stroke="#000000" stroke-width="0.5" fill="#000000"/>
<path d="M161.6 469.6 L179 469.6" stroke="#000000" stroke-width="1.6" fill="none"/>
<path d="M179 469.6 L174.4 471.6 L172 469.6 L174.4 467.6 Z" stroke="#000000" stroke-width="0.5" fill="#000000"/>
<path d="M161.6 486 L179 486" stroke="#000000" stroke-width="1.6" fill="none"/>
<path d="M179 486 L174.4 488 L172 486 L174.4 484 Z" stroke="#000000" stroke-width="0.5" fill="#000000"/>
<path d="M161.6 502.2 L179 502.2" stroke="#000000" stroke-width="1.6" fill="none"/>
<path d="M179 502.2 L174.4 504.2 L172 502.2 L174.4 500.2 Z" stroke="#000000" stroke-width="0.5" fill="#000000"/>
<path d="M764 376.8 L746 376.8" stroke="#000000" stroke-width="2" fill="none"/>
<path d="M746 376.8 L750.6 374.8 L753 376.8 L750.6 378.8 Z" stroke="#000000" stroke-width="0.5" fill="#000000"/>
<path d="M764 392.9 L746 392.9" stroke="#000000" stroke-width="2" fill="none"/>
<path d="M746 392.9 L750.6 390.9 L753 392.9 L750.6 394.9 Z" stroke="#000000" stroke-width="0.5" fill="#000000"/>
<path d="M741.2 455.5 L759 455.5" stroke="#000000" stroke-width="2" fill="none"/>
<path d="M759 455.5 L754.4 457.5 L752 455.5 L754.4 453.5 Z" stroke="#000000" stroke-width="0.5" fill="#000000"/>
<path d="M741.2 470.8 L759 470.8" stroke="#000000" stroke-width="2" fill="none"/>
<path d="M759 470.8 L754.4 472.8 L752 470.8 L754.4 468.8 Z" stroke="#000000" stroke-width="0.5" fill="#000000"/>
<path d="M741.2 486.9 L759 486.9" stroke="#000000" stroke-width="2" fill="none"/>
<path d="M759 486.9 L754.4 488.9 L752 486.9 L754.4 484.9 Z" stroke="#000000" stroke-width="0.5" fill="#000000"/>
<path d="M741.2 504 L759 504" stroke="#000000" stroke-width="2" fill="none"/>
<path d="M759 504 L754.4 506 L752 504 L754.4 502 Z" stroke="#000000" stroke-width="0.5" fill="#000000"/>
<path d="M377.9 95.6 L377.9 79" stroke="#000000" stroke-width="2" fill="none"/>
<path d="M377.9 79 L379.9 83.6 L377.9 86 L375.9 83.6 Z" stroke="#000000" stroke-width="0.5" fill="#000000"/>
<path d="M394.2 95.6 L394.2 79" stroke="#000000" stroke-width="2" fill="none"/>
<path d="M394.2 79 L396.2 83.6 L394.2 86 L392.2 83.6 Z" stroke="#000000" stroke-width="0.5" fill="#000000"/>
<path d="M410.1 95.6 L410.1 79" stroke="#000000" stroke-width="2" fill="none"/>
<path d="M410.1 79 L412.1 83.6 L410.1 86 L408.1 83.6 Z" stroke="#000000" stroke-width="0.5" fill="#000000"/>
<path d="M519.1 95.6 L519.1 79" stroke="#000000" stroke-width="2" fill="none"/>
<path d="M519.1 79 L520.8 83.6 L519.1 86 L517.4 83.6 Z" stroke="#000000" stroke-width="0.5" fill="#000000"/>
<path d="M535.2 95.6 L535.2 79" stroke="#000000" stroke-width="2" fill="none"/>
<path d="M535.2 79 L536.9 83.6 L535.2 86 L533.5 83.6 Z" stroke="#000000" stroke-width="0.5" fill="#000000"/>
<path d="M551.3 95.6 L551.3 79" stroke="#000000" stroke-width="2" fill="none"/>
<path d="M551.3 79 L553 83.6 L551.3 86 L549.6 83.6 Z" stroke="#000000" stroke-width="0.5" fill="#000000"/>
<path d="M373.4 766.5 L373.4 783.5" stroke="#000000" stroke-width="1.6" fill="none"/>
<path d="M373.4 783.5 L371.4 778.9 L373.4 776.5 L375.4 778.9 Z" stroke="#000000" stroke-width="0.5" fill="#000000"/>
<path d="M393.5 766.5 L393.5 783.5" stroke="#000000" stroke-width="1.6" fill="none"/>
<path d="M393.5 783.5 L391.5 778.9 L393.5 776.5 L395.5 778.9 Z" stroke="#000000" stroke-width="0.5" fill="#000000"/>
<path d="M412.8 766.5 L412.8 783.5" stroke="#000000" stroke-width="1.6" fill="none"/>
<path d="M412.8 783.5 L410.8 778.9 L412.8 776.5 L414.8 778.9 Z" stroke="#000000" stroke-width="0.5" fill="#000000"/>
<path d="M481.2 101.6 L463.2 101.6" stroke="#000000" stroke-width="2" fill="none"/>
<path d="M463.2 101.6 L467.8 99.6 L470.2 101.6 L467.8 103.6 Z" stroke="#000000" stroke-width="0.5" fill="#000000"/>
<path d="M479.2 116.3 L461.2 116.3" stroke="#000000" stroke-width="2" fill="none"/>
<path d="M461.2 116.3 L465.8 114.3 L468.2 116.3 L465.8 118.3 Z" stroke="#000000" stroke-width="0.5" fill="#000000"/>
<path d="M452 748.1 L469.6 748.1" stroke="#000000" stroke-width="2" fill="none"/>
<path d="M469.6 748.1 L465 750.1 L462.6 748.1 L465 746.1 Z" stroke="#000000" stroke-width="0.5" fill="#000000"/>
<path d="M452 761.5 L469.6 761.5" stroke="#000000" stroke-width="2" fill="none"/>
<path d="M469.6 761.5 L465 763.5 L462.6 761.5 L465 759.5 Z" stroke="#000000" stroke-width="0.5" fill="#000000"/>
<path d="M392.2 138.6 L390.4 155.4" stroke="#000000" stroke-width="2" fill="none"/>
<path d="M390.4 155.4 L388.9 150.6 L391.2 148.4 L392.9 151 Z" stroke="#000000" stroke-width="0.5" fill="#000000"/>
<path d="M407.1 141.6 L405.9 158.4" stroke="#000000" stroke-width="2" fill="none"/>
<path d="M405.9 158.4 L404.2 153.7 L406.4 151.4 L408.2 153.9 Z" stroke="#000000" stroke-width="0.5" fill="#000000"/>
<path d="M378 245.3 L377.2 261.7" stroke="#000000" stroke-width="2" fill="none"/>
<path d="M377.2 261.7 L375.4 257 L377.5 254.7 L379.4 257.2 Z" stroke="#000000" stroke-width="0.5" fill="#000000"/>
<path d="M392.6 248.8 L391.8 265.2" stroke="#000000" stroke-width="2" fill="none"/>
<path d="M391.8 265.2 L390 260.5 L392.1 258.2 L394 260.7 Z" stroke="#000000" stroke-width="0.5" fill="#000000"/>
<path d="M331.7 344.6 L317.3 355.2" stroke="#000000" stroke-width="2" fill="none"/>
<path d="M317.3 355.2 L319.8 350.9 L322.9 351.1 L322.1 354.1 Z" stroke="#000000" stroke-width="0.5" fill="#000000"/>
<path d="M339.2 357.3 L324.8 367.9" stroke="#000000" stroke-width="2" fill="none"/>
<path d="M324.8 367.9 L327.3 363.6 L330.4 363.8 L329.6 366.8 Z" stroke="#000000" stroke-width="0.5" fill="#000000"/>
<path d="M277.8 370.6 L261.4 375.2" stroke="#000000" stroke-width="2" fill="none"/>
<path d="M261.4 375.2 L265.3 372.1 L268.2 373.3 L266.4 375.9 Z" stroke="#000000" stroke-width="0.5" fill="#000000"/>
<path d="M281.7 385.1 L265.5 390.3" stroke="#000000" stroke-width="2" fill="none"/>
<path d="M265.5 390.3 L269.3 387 L272.2 388.2 L270.5 390.8 Z" stroke="#000000" stroke-width="0.5" fill="#000000"/>
<path d="M526.8 153.4 L520.2 135" stroke="#000000" stroke-width="2" fill="none"/>
<path d="M520.2 135 L523.7 138.7 L522.6 141.6 L519.9 140 Z" stroke="#000000" stroke-width="0.5" fill="#000000"/>
<path d="M540.6 148.6 L535.2 132" stroke="#000000" stroke-width="2" fill="none"/>
<path d="M535.2 132 L538.5 135.7 L537.4 138.6 L534.7 137 Z" stroke="#000000" stroke-width="0.5" fill="#000000"/>
<path d="M546.3 230 L540.9 214.4" stroke="#000000" stroke-width="2" fill="none"/>
<path d="M540.9 214.4 L544.3 218.1 L543.2 221 L540.5 219.4 Z" stroke="#000000" stroke-width="0.5" fill="#000000"/>
<path d="M560.3 227.2 L554.9 211.6" stroke="#000000" stroke-width="2" fill="none"/>
<path d="M554.9 211.6 L558.3 215.3 L557.2 218.2 L554.5 216.6 Z" stroke="#000000" stroke-width="0.5" fill="#000000"/>
<path d="M578.9 297.9 L568.1 285.3" stroke="#000000" stroke-width="2" fill="none"/>
<path d="M568.1 285.3 L572.6 287.5 L572.6 290.6 L569.5 290.1 Z" stroke="#000000" stroke-width="0.5" fill="#000000"/>
<path d="M591.2 290.2 L580.4 277.6" stroke="#000000" stroke-width="2" fill="none"/>
<path d="M580.4 277.6 L584.9 279.8 L584.9 282.9 L581.8 282.4 Z" stroke="#000000" stroke-width="0.5" fill="#000000"/>
<path d="M648.1 353.8 L633.9 346.2" stroke="#000000" stroke-width="2" fill="none"/>
<path d="M633.9 346.2 L638.9 346.6 L640.1 349.5 L637.1 350.2 Z" stroke="#000000" stroke-width="0.5" fill="#000000"/>
<path d="M657.1 342.8 L642.9 335.2" stroke="#000000" stroke-width="2" fill="none"/>
<path d="M642.9 335.2 L647.9 335.6 L649.1 338.5 L646.1 339.2 Z" stroke="#000000" stroke-width="0.5" fill="#000000"/>
<path d="M714.3 386.1 L698.5 379.9" stroke="#000000" stroke-width="2" fill="none"/>
<path d="M698.5 379.9 L703.5 379.7 L705 382.5 L702 383.4 Z" stroke="#000000" stroke-width="0.5" fill="#000000"/>
<path d="M720.9 373.6 L705.1 367.4" stroke="#000000" stroke-width="2" fill="none"/>
<path d="M705.1 367.4 L710.1 367.2 L711.6 370 L708.6 370.9 Z" stroke="#000000" stroke-width="0.5" fill="#000000"/>
<path d="M219.3 479 L234.1 485" stroke="#000000" stroke-width="2" fill="none"/>
<path d="M234.1 485 L229.1 485.1 L227.6 482.4 L230.6 481.4 Z" stroke="#000000" stroke-width="0.5" fill="#000000"/>
<path d="M214.3 491 L229.1 497" stroke="#000000" stroke-width="2" fill="none"/>
<path d="M229.1 497 L224.1 497.1 L222.6 494.4 L225.6 493.4 Z" stroke="#000000" stroke-width="0.5" fill="#000000"/>
<path d="M285.9 513.7 L298.1 522.3" stroke="#000000" stroke-width="2" fill="none"/>
<path d="M298.1 522.3 L293.2 521.3 L292.4 518.3 L295.5 518 Z" stroke="#000000" stroke-width="0.5" fill="#000000"/>
<path d="M277.9 525.7 L290.1 534.3" stroke="#000000" stroke-width="2" fill="none"/>
<path d="M290.1 534.3 L285.2 533.3 L284.4 530.3 L287.5 530 Z" stroke="#000000" stroke-width="0.5" fill="#000000"/>
<path d="M351.4 569.5 L361.6 583.1" stroke="#000000" stroke-width="2" fill="none"/>
<path d="M361.6 583.1 L357.2 580.6 L357.4 577.5 L360.4 578.2 Z" stroke="#000000" stroke-width="0.5" fill="#000000"/>
<path d="M340 577.7 L350.2 591.3" stroke="#000000" stroke-width="2" fill="none"/>
<path d="M350.2 591.3 L345.8 588.8 L346 585.7 L349 586.4 Z" stroke="#000000" stroke-width="0.5" fill="#000000"/>
<path d="M369.9 644.3 L374.5 659.9" stroke="#000000" stroke-width="2" fill="none"/>
<path d="M374.5 659.9 L371.3 656 L372.5 653.2 L375.1 654.9 Z" stroke="#000000" stroke-width="0.5" fill="#000000"/>
<path d="M382.7 640.9 L388.1 656.1" stroke="#000000" stroke-width="2" fill="none"/>
<path d="M388.1 656.1 L384.7 652.5 L385.8 649.5 L388.4 651.1 Z" stroke="#000000" stroke-width="0.5" fill="#000000"/>
<path d="M387.2 708.9 L392.6 725.1" stroke="#000000" stroke-width="2" fill="none"/>
<path d="M392.6 725.1 L389.2 721.3 L390.4 718.4 L393 720.1 Z" stroke="#000000" stroke-width="0.5" fill="#000000"/>
<path d="M400.7 705.3 L405.3 720.7" stroke="#000000" stroke-width="2" fill="none"/>
<path d="M405.3 720.7 L402 716.8 L403.3 714 L405.9 715.7 Z" stroke="#000000" stroke-width="0.5" fill="#000000"/>
<path d="M651.3 504 L666.7 495.6" stroke="#000000" stroke-width="2" fill="none"/>
<path d="M666.7 495.6 L663.6 499.6 L660.5 499 L661.7 496.1 Z" stroke="#000000" stroke-width="0.5" fill="#000000"/>
<path d="M658.3 515.2 L673.9 507.2" stroke="#000000" stroke-width="2" fill="none"/>
<path d="M673.9 507.2 L670.7 511.1 L667.7 510.4 L668.9 507.5 Z" stroke="#000000" stroke-width="0.5" fill="#000000"/>
<path d="M600.2 542.8 L612.8 530.2" stroke="#000000" stroke-width="2" fill="none"/>
<path d="M612.8 530.2 L610.9 534.9 L607.8 535.2 L608.1 532.1 Z" stroke="#000000" stroke-width="0.5" fill="#000000"/>
<path d="M610.4 551.8 L623 539.2" stroke="#000000" stroke-width="2" fill="none"/>
<path d="M623 539.2 L621.1 543.9 L618 544.2 L618.3 541.1 Z" stroke="#000000" stroke-width="0.5" fill="#000000"/>
<path d="M548.1 623.8 L552.7 608" stroke="#000000" stroke-width="2" fill="none"/>
<path d="M552.7 608 L553.3 612.9 L550.7 614.7 L549.5 611.8 Z" stroke="#000000" stroke-width="0.5" fill="#000000"/>
<path d="M561.6 628 L565.4 612" stroke="#000000" stroke-width="2" fill="none"/>
<path d="M565.4 612 L566.3 616.9 L563.8 618.8 L562.4 616 Z" stroke="#000000" stroke-width="0.5" fill="#000000"/>
<path d="M528.1 703.6 L532.7 688.8" stroke="#000000" stroke-width="2" fill="none"/>
<path d="M532.7 688.8 L533.2 693.8 L530.6 695.5 L529.4 692.6 Z" stroke="#000000" stroke-width="0.5" fill="#000000"/>
<path d="M541.7 707.3 L545.5 692.3" stroke="#000000" stroke-width="2" fill="none"/>
<path d="M545.5 692.3 L546.3 697.2 L543.8 699.1 L542.4 696.3 Z" stroke="#000000" stroke-width="0.5" fill="#000000"/>
<circle cx="645.4" cy="209.2" r="13.5" stroke="#000" stroke-width="1" fill="none"/>
<rect x="76" y="556" width="1.5" height="1.5" stroke="none" stroke-width="1" fill="#555"/>
<rect x="144" y="555" width="1.5" height="1.5" stroke="none" stroke-width="1" fill="#555"/>
<path d="M512 431.9 L620 431.4" stroke="#ff66ff" stroke-width="1" fill="none"/>
<path d="M620 415 L566 415.3 C560 415.5 553.7 421 553.7 429.5 C553.7 438 560 444 566 444 L620 443.6" stroke="#00ff00" stroke-width="1" fill="none"/>
</g>
<g fill="#000" stroke="#000" stroke-width="0.35">
<text x="0" y="0" transform="translate(534.7 9.3) rotate(90)" font-family="Liberation Sans, sans-serif" font-size="10" text-anchor="middle" dominant-baseline="central">Z4</text>
<text x="0" y="0" transform="translate(535.2 149.8) rotate(90)" font-family="Liberation Sans, sans-serif" font-size="10" text-anchor="middle" dominant-baseline="central">Z3</text>
<text x="0" y="0" transform="translate(374 300.7) rotate(-100)" font-family="Liberation Sans, sans-serif" font-size="10" text-anchor="middle" dominant-baseline="central">97</text>
<text x="0" y="0" transform="translate(534.8 713.3) rotate(-90)" font-family="Liberation Sans, sans-serif" font-size="10" text-anchor="middle" dominant-baseline="central">Z8</text>
<text x="0" y="0" transform="translate(534.8 853.3) rotate(-90)" font-family="Liberation Sans, sans-serif" font-size="10" text-anchor="middle" dominant-baseline="central">Z9</text>
<text x="559.5" y="429.6" font-family="Liberation Sans, sans-serif" font-size="6" font-weight="bold" text-anchor="middle">EXIT</text>
<path d="M645.4 184.7 L656.3 227.7 L645.4 214.6 L634.3 227.7 Z"/>
<text x="635" y="183.4" font-family="'Liberation Sans', 'Noto Sans CJK SC', sans-serif" font-size="20.6" stroke="none">北</text>
<text x="52.3" y="447.2" font-family="'Liberation Sans', 'Noto Sans CJK SC', sans-serif" font-size="33.6" stroke="none">三东大道</text>
<text x="764.8" y="439.8" font-family="'Liberation Sans', 'Noto Sans CJK SC', sans-serif" font-size="33.6" stroke="none">三东大道</text>
<g transform="translate(309 140.3) rotate(-90)">
<text x="0" y="12.9" font-family="'Liberation Sans', 'Noto Sans CJK SC', sans-serif" font-size="34" stroke="none">莲山路</text>
</g>
<g transform="translate(631.2 140.3) rotate(-90)">
<text x="0" y="12.9" font-family="'Liberation Sans', 'Noto Sans CJK SC', sans-serif" font-size="34" stroke="none">莲山路</text>
</g>
<g transform="translate(309.2 822.6) rotate(-90)">
<text x="0" y="12.9" font-family="'Liberation Sans', 'Noto Sans CJK SC', sans-serif" font-size="34" stroke="none">莲山路</text>
</g>
<g transform="translate(631.8 822.6) rotate(-90)">
<text x="0" y="12.9" font-family="'Liberation Sans', 'Noto Sans CJK SC', sans-serif" font-size="34" stroke="none">莲山路</text>
</g>
<text x="462" y="704" font-family="Liberation Sans, sans-serif" font-size="7" text-anchor="middle" transform="translate(924 0) scale(-1 1)">51.96.20</text>
<text transform="translate(521 388) rotate(62)" font-family="Liberation Sans, sans-serif" font-size="8.5" stroke-width="0.2">R3.5</text>
<text transform="translate(512.5 411) rotate(30)" font-family="Liberation Sans, sans-serif" font-size="8.5" stroke-width="0.2">Pam</text>
</g>
</g></svg></body></html>
